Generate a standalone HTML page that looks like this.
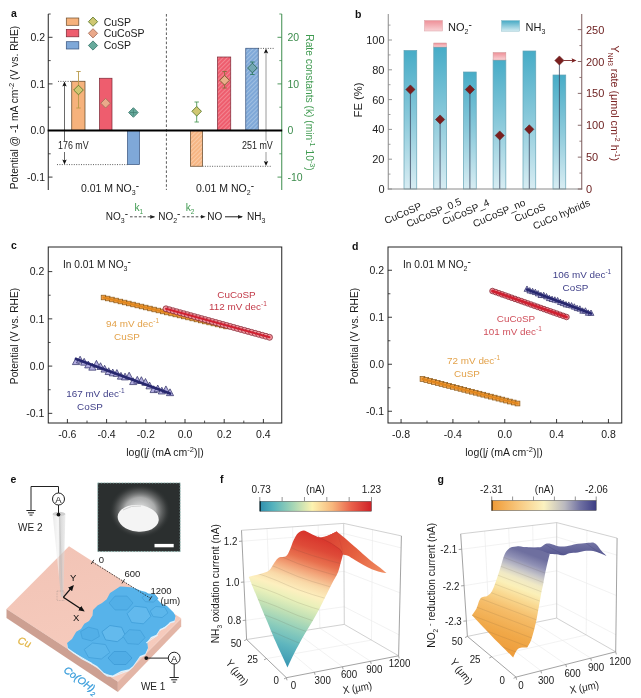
<!DOCTYPE html>
<html><head><meta charset="utf-8"><title>figure</title>
<style>
html,body{margin:0;padding:0;background:#fff;}
body{width:641px;height:698px;overflow:hidden;}
svg{display:block;will-change:transform;transform:translateZ(0);font-family:'Liberation Sans', sans-serif;}
</style></head><body>
<svg width="641" height="698" viewBox="0 0 641 698">
<defs>
<pattern id="hatchO" width="3" height="3" patternUnits="userSpaceOnUse" patternTransform="rotate(45)">
  <rect width="3" height="3" fill="#f6b684"/><line x1="0" y1="0" x2="0" y2="3" stroke="#fbd9bd" stroke-width="1.2"/>
</pattern>
<pattern id="hatchR" width="3" height="3" patternUnits="userSpaceOnUse" patternTransform="rotate(45)">
  <rect width="3" height="3" fill="#ee5d6e"/><line x1="0" y1="0" x2="0" y2="3" stroke="#f6a3ab" stroke-width="1.2"/>
</pattern>
<pattern id="hatchB" width="3" height="3" patternUnits="userSpaceOnUse" patternTransform="rotate(45)">
  <rect width="3" height="3" fill="#7fa8d8"/><line x1="0" y1="0" x2="0" y2="3" stroke="#b9d0ea" stroke-width="1.2"/>
</pattern>
<linearGradient id="teal" x1="0" y1="0" x2="0" y2="1">
  <stop offset="0" stop-color="#47acc7"/><stop offset="0.5" stop-color="#8ccadb"/><stop offset="1" stop-color="#d8edf3"/>
</linearGradient>
<linearGradient id="tealLeg" x1="0" y1="0" x2="0" y2="1">
  <stop offset="0" stop-color="#45a9c4"/><stop offset="1" stop-color="#d3ebf1"/>
</linearGradient>
<linearGradient id="pinkLeg" x1="0" y1="0" x2="0" y2="1">
  <stop offset="0" stop-color="#ee8f97"/><stop offset="1" stop-color="#f9d3d6"/>
</linearGradient>
<marker id="arrK" markerWidth="6" markerHeight="6" refX="5" refY="3" orient="auto" markerUnits="userSpaceOnUse">
  <path d="M0,0.5 L6,3 L0,5.5 z" fill="#222"/>
</marker>
<linearGradient id="cbF" x1="0" y1="0" x2="1" y2="0">
  <stop offset="0" stop-color="#2f8fae"/><stop offset="0.12" stop-color="#55b3bd"/><stop offset="0.3" stop-color="#a6d6b5"/>
  <stop offset="0.47" stop-color="#fdf3b0"/><stop offset="0.65" stop-color="#f8b77c"/><stop offset="0.82" stop-color="#e9604a"/><stop offset="1" stop-color="#cf2027"/>
</linearGradient>
<linearGradient id="cbG" x1="0" y1="0" x2="1" y2="0">
  <stop offset="0" stop-color="#ef9a35"/><stop offset="0.25" stop-color="#f8c77d"/><stop offset="0.5" stop-color="#fbf2c0"/>
  <stop offset="0.7" stop-color="#b9b8bf"/><stop offset="0.85" stop-color="#6f70a2"/><stop offset="1" stop-color="#3c3d85"/>
</linearGradient>
<linearGradient id="surfF" gradientUnits="userSpaceOnUse" x1="0" y1="530" x2="0" y2="668">
  <stop offset="0" stop-color="#d8352c"/><stop offset="0.12" stop-color="#e2513c"/><stop offset="0.25" stop-color="#ee8a60"/>
  <stop offset="0.36" stop-color="#f7c79a"/><stop offset="0.45" stop-color="#fdf0bf"/><stop offset="0.55" stop-color="#e6efb8"/>
  <stop offset="0.68" stop-color="#a9d8b8"/><stop offset="0.82" stop-color="#62b9bd"/><stop offset="1" stop-color="#3a9ab5"/>
</linearGradient>
<linearGradient id="surfG" gradientUnits="userSpaceOnUse" x1="0" y1="545" x2="0" y2="660">
  <stop offset="0" stop-color="#54558f"/><stop offset="0.1" stop-color="#7f80a8"/><stop offset="0.2" stop-color="#c4c2c0"/>
  <stop offset="0.32" stop-color="#fbf3c2"/><stop offset="0.48" stop-color="#fbdc9a"/><stop offset="0.65" stop-color="#f6bd6c"/>
  <stop offset="1" stop-color="#f0a03e"/>
</linearGradient>
<radialGradient id="semGlow" cx="0.5" cy="0.5" r="0.5">
  <stop offset="0" stop-color="#ffffff" stop-opacity="0.95"/><stop offset="0.5" stop-color="#e0e0e0" stop-opacity="0.7"/><stop offset="0.8" stop-color="#9a9a9a" stop-opacity="0.25"/><stop offset="1" stop-color="#2b2f2f" stop-opacity="0"/>
</radialGradient>
<linearGradient id="pip" x1="0" y1="0" x2="1" y2="0">
  <stop offset="0" stop-color="#dcdcdc"/><stop offset="0.45" stop-color="#f4f4f4"/><stop offset="0.55" stop-color="#bdbdbd"/><stop offset="1" stop-color="#e2e2e2"/>
</linearGradient>

</defs>
<rect x="0" y="0" width="641" height="698" fill="#ffffff"/>
<text x="11" y="16.7" font-size="10.5" fill="#111" text-anchor="start" font-weight="bold" font-style="normal" >a</text>
<line x1="48.25" y1="14" x2="48.25" y2="190" stroke="#222" stroke-width="1" />
<line x1="48.25" y1="37.3" x2="52.5" y2="37.3" stroke="#222" stroke-width="0.9" />
<text x="45" y="41.099999999999994" font-size="10.5" fill="#1a1a1a" text-anchor="end" font-weight="normal" font-style="normal" >0.2</text>
<line x1="48.25" y1="83.9" x2="52.5" y2="83.9" stroke="#222" stroke-width="0.9" />
<text x="45" y="87.7" font-size="10.5" fill="#1a1a1a" text-anchor="end" font-weight="normal" font-style="normal" >0.1</text>
<line x1="48.25" y1="130.5" x2="52.5" y2="130.5" stroke="#222" stroke-width="0.9" />
<text x="45" y="134.3" font-size="10.5" fill="#1a1a1a" text-anchor="end" font-weight="normal" font-style="normal" >0.0</text>
<line x1="48.25" y1="177.1" x2="52.5" y2="177.1" stroke="#222" stroke-width="0.9" />
<text x="45" y="180.9" font-size="10.5" fill="#1a1a1a" text-anchor="end" font-weight="normal" font-style="normal" >-0.1</text>
<line x1="48.25" y1="14.0" x2="50.7" y2="14.0" stroke="#222" stroke-width="0.8" />
<line x1="48.25" y1="60.60000000000001" x2="50.7" y2="60.60000000000001" stroke="#222" stroke-width="0.8" />
<line x1="48.25" y1="107.2" x2="50.7" y2="107.2" stroke="#222" stroke-width="0.8" />
<line x1="48.25" y1="153.8" x2="50.7" y2="153.8" stroke="#222" stroke-width="0.8" />
<line x1="281.75" y1="14" x2="281.75" y2="190" stroke="#3c8c4c" stroke-width="1" />
<line x1="277.5" y1="37.3" x2="281.75" y2="37.3" stroke="#3c8c4c" stroke-width="0.9" />
<text x="287.5" y="41.099999999999994" font-size="10.5" fill="#3c8c4c" text-anchor="start" font-weight="normal" font-style="normal" >20</text>
<line x1="277.5" y1="83.9" x2="281.75" y2="83.9" stroke="#3c8c4c" stroke-width="0.9" />
<text x="287.5" y="87.7" font-size="10.5" fill="#3c8c4c" text-anchor="start" font-weight="normal" font-style="normal" >10</text>
<line x1="277.5" y1="130.5" x2="281.75" y2="130.5" stroke="#3c8c4c" stroke-width="0.9" />
<text x="287.5" y="134.3" font-size="10.5" fill="#3c8c4c" text-anchor="start" font-weight="normal" font-style="normal" >0</text>
<line x1="277.5" y1="177.1" x2="281.75" y2="177.1" stroke="#3c8c4c" stroke-width="0.9" />
<text x="287.5" y="180.9" font-size="10.5" fill="#3c8c4c" text-anchor="start" font-weight="normal" font-style="normal" >-10</text>
<line x1="279.3" y1="14.0" x2="281.75" y2="14.0" stroke="#3c8c4c" stroke-width="0.8" />
<line x1="279.3" y1="60.60000000000001" x2="281.75" y2="60.60000000000001" stroke="#3c8c4c" stroke-width="0.8" />
<line x1="279.3" y1="107.2" x2="281.75" y2="107.2" stroke="#3c8c4c" stroke-width="0.8" />
<line x1="279.3" y1="153.8" x2="281.75" y2="153.8" stroke="#3c8c4c" stroke-width="0.8" />
<text x="17.5" y="107.5" font-size="10.3" fill="#1a1a1a" text-anchor="middle" font-weight="normal" font-style="normal" transform="rotate(-90 17.5 107.5)" >Potential @ -1 mA cm<tspan baseline-shift="4" font-size="7.5">-2</tspan> (V vs. RHE)</text>
<text x="306.2" y="102.5" font-size="10.25" fill="#3f9a50" text-anchor="middle" font-weight="normal" font-style="normal" transform="rotate(90 306.2 102.5)" >Rate constants (k) (min<tspan baseline-shift="4" font-size="7.2">-1</tspan> 10<tspan baseline-shift="4" font-size="7.2">-3</tspan>)</text>
<line x1="166.4" y1="14" x2="166.4" y2="190" stroke="#333" stroke-width="0.8" stroke-dasharray="2.6,2"/>
<rect x="66.3" y="18" width="12.5" height="7.3" fill="#f6b27c" stroke="#6b4a2a" stroke-width="0.7" />
<rect x="66.3" y="29.5" width="12.5" height="7.3" fill="#ee5d6e" stroke="#7a2634" stroke-width="0.7" />
<rect x="66.3" y="41.7" width="12.5" height="7.3" fill="#7fa8d8" stroke="#34507c" stroke-width="0.7" />
<polygon points="88.4,21.7 93,17.1 97.6,21.7 93,26.299999999999997" fill="#cfc771" stroke="#5e7a2e" stroke-width="0.9"/>
<polygon points="88.4,33.3 93,28.699999999999996 97.6,33.3 93,37.9" fill="#eaa98a" stroke="#a8705c" stroke-width="0.9"/>
<polygon points="88.4,45.5 93,40.9 97.6,45.5 93,50.1" fill="#67aa9c" stroke="#3f7c70" stroke-width="0.9"/>
<text x="103.7" y="25.5" font-size="10.5" fill="#1a1a1a" text-anchor="start" font-weight="normal" font-style="normal" >CuSP</text>
<text x="103.7" y="37.2" font-size="10.5" fill="#1a1a1a" text-anchor="start" font-weight="normal" font-style="normal" >CuCoSP</text>
<text x="103.7" y="49.3" font-size="10.5" fill="#1a1a1a" text-anchor="start" font-weight="normal" font-style="normal" >CoSP</text>
<rect x="71.75" y="81.25" width="13.25" height="49.25" fill="#f6b27c" stroke="#5b3f22" stroke-width="0.7" />
<rect x="99.5" y="78.25" width="12.5" height="52.25" fill="#ee5d6e" stroke="#7a2634" stroke-width="0.7" />
<rect x="127.5" y="130.5" width="12" height="34.0" fill="#7fa8d8" stroke="#34507c" stroke-width="0.7" />
<rect x="190.5" y="130.5" width="12" height="35.75" fill="url(#hatchO)" stroke="#5b3f22" stroke-width="0.7" />
<rect x="217.5" y="57" width="13.25" height="73.5" fill="url(#hatchR)" stroke="#7a2634" stroke-width="0.7" />
<rect x="245.75" y="48.25" width="12.5" height="82.25" fill="url(#hatchB)" stroke="#34507c" stroke-width="0.7" />
<line x1="58" y1="81.4" x2="72" y2="81.4" stroke="#333" stroke-width="0.8" stroke-dasharray="1,1.4"/>
<line x1="57" y1="164.6" x2="127.5" y2="164.6" stroke="#333" stroke-width="0.8" stroke-dasharray="1,1.4"/>
<line x1="258.2" y1="48.4" x2="274" y2="48.4" stroke="#333" stroke-width="0.8" stroke-dasharray="1,1.4"/>
<line x1="202.5" y1="166.3" x2="272" y2="166.3" stroke="#333" stroke-width="0.8" stroke-dasharray="1,1.4"/>
<line x1="64.5" y1="84" x2="64.5" y2="162" stroke="#444" stroke-width="0.8" />
<path d="M64.5,81.6 L62.3,86.6 L64.5,85.6 L66.7,86.6z" fill="#111"/>
<path d="M64.5,164.4 L62.3,159.4 L64.5,160.4 L66.7,159.4z" fill="#111"/>
<line x1="266" y1="51" x2="266" y2="164" stroke="#9a9a9a" stroke-width="1.0" />
<path d="M266,48.6 L263.8,53.6 L266,52.6 L268.2,53.6z" fill="#111"/>
<path d="M266,166.1 L263.8,161.1 L266,162.1 L268.2,161.1z" fill="#111"/>
<rect x="57" y="141" width="33" height="11" fill="#fff" stroke="none" stroke-width="1" />
<text x="58" y="149.3" font-size="10.2" fill="#222" text-anchor="start" font-weight="normal" font-style="normal" textLength="30.6" lengthAdjust="spacingAndGlyphs">176 mV</text>
<rect x="241" y="141" width="33" height="11" fill="#fff" stroke="none" stroke-width="1" />
<text x="242" y="149.3" font-size="10.2" fill="#222" text-anchor="start" font-weight="normal" font-style="normal" textLength="30.8" lengthAdjust="spacingAndGlyphs">251 mV</text>
<line x1="47.7" y1="130.5" x2="282.2" y2="130.5" stroke="#000" stroke-width="1.8" />
<line x1="78.5" y1="71.5" x2="78.5" y2="108" stroke="#b89a4a" stroke-width="0.9" />
<line x1="76.3" y1="71.5" x2="80.7" y2="71.5" stroke="#b89a4a" stroke-width="0.9" />
<line x1="76.3" y1="108" x2="80.7" y2="108" stroke="#b89a4a" stroke-width="0.9" />
<polygon points="73.7,90 78.5,85.2 83.3,90 78.5,94.8" fill="#cfc771" stroke="#5e7a2e" stroke-width="0.9"/>
<polygon points="100.8,103.2 105.6,98.4 110.39999999999999,103.2 105.6,108.0" fill="#eaa98a" stroke="#a8705c" stroke-width="0.9"/>
<polygon points="128.6,112.5 133.4,107.7 138.20000000000002,112.5 133.4,117.3" fill="#67aa9c" stroke="#3f7c70" stroke-width="0.9"/>
<line x1="130" y1="112.5" x2="136.8" y2="112.5" stroke="#3f7c70" stroke-width="0.7" />
<line x1="133.4" y1="109.5" x2="133.4" y2="115.5" stroke="#3f7c70" stroke-width="0.7" />
<line x1="196.7" y1="102" x2="196.7" y2="122" stroke="#4f9a5a" stroke-width="0.9" />
<line x1="194.5" y1="102" x2="198.89999999999998" y2="102" stroke="#4f9a5a" stroke-width="0.9" />
<line x1="194.5" y1="122" x2="198.89999999999998" y2="122" stroke="#4f9a5a" stroke-width="0.9" />
<polygon points="191.89999999999998,111.3 196.7,106.5 201.5,111.3 196.7,116.1" fill="#cfc771" stroke="#5e7a2e" stroke-width="0.9"/>
<line x1="224.6" y1="71.5" x2="224.6" y2="88" stroke="#8a6a3a" stroke-width="0.9" />
<line x1="222.4" y1="71.5" x2="226.79999999999998" y2="71.5" stroke="#8a6a3a" stroke-width="0.9" />
<line x1="222.4" y1="88" x2="226.79999999999998" y2="88" stroke="#8a6a3a" stroke-width="0.9" />
<polygon points="219.79999999999998,80.3 224.6,75.5 229.4,80.3 224.6,85.1" fill="#eab08a" stroke="#7a5a30" stroke-width="0.9"/>
<line x1="252.4" y1="62" x2="252.4" y2="74.5" stroke="#2f7c60" stroke-width="0.9" />
<line x1="250.20000000000002" y1="62" x2="254.6" y2="62" stroke="#2f7c60" stroke-width="0.9" />
<line x1="250.20000000000002" y1="74.5" x2="254.6" y2="74.5" stroke="#2f7c60" stroke-width="0.9" />
<polygon points="247.6,68 252.4,63.2 257.2,68 252.4,72.8" fill="#74a8b4" stroke="#2f6c5c" stroke-width="0.9"/>
<text x="110" y="191.5" font-size="10.5" fill="#1a1a1a" text-anchor="middle" font-weight="normal" font-style="normal" >0.01 M NO<tspan baseline-shift="-2.5" font-size="7">3</tspan><tspan baseline-shift="3.5" font-size="10">-</tspan></text>
<text x="225" y="191.5" font-size="10.5" fill="#1a1a1a" text-anchor="middle" font-weight="normal" font-style="normal" >0.01 M NO<tspan baseline-shift="-2.5" font-size="7">2</tspan><tspan baseline-shift="3.5" font-size="10">-</tspan></text>
<defs><marker id="arrS" markerWidth="5" markerHeight="5" refX="4" refY="2.5" orient="auto" markerUnits="userSpaceOnUse"><path d="M0,0.6 L5,2.5 L0,4.4 z" fill="#222"/></marker></defs>
<text x="105.8" y="220.4" font-size="10" fill="#1a1a1a" text-anchor="start" font-weight="normal" font-style="normal" >NO<tspan baseline-shift="-2.5" font-size="7">3</tspan><tspan baseline-shift="3.5" font-size="10">-</tspan></text>
<line x1="130" y1="216.8" x2="154.2" y2="216.8" stroke="#222" stroke-width="0.8" stroke-dasharray="2.6,1.8" marker-end="url(#arrS)"/>
<text x="138.8" y="210.8" font-size="10.2" fill="#3f9a50" text-anchor="middle" font-weight="normal" font-style="normal" >k<tspan baseline-shift="-2.5" font-size="6.5">1</tspan></text>
<text x="158.2" y="220.4" font-size="10" fill="#1a1a1a" text-anchor="start" font-weight="normal" font-style="normal" >NO<tspan baseline-shift="-2.5" font-size="7">2</tspan><tspan baseline-shift="3.5" font-size="10">-</tspan></text>
<line x1="182.5" y1="216.8" x2="204.6" y2="216.8" stroke="#222" stroke-width="0.8" stroke-dasharray="2.6,1.8" marker-end="url(#arrS)"/>
<text x="190" y="210.8" font-size="10.2" fill="#3f9a50" text-anchor="middle" font-weight="normal" font-style="normal" >k<tspan baseline-shift="-2.5" font-size="6.5">2</tspan></text>
<text x="207.3" y="220.4" font-size="10" fill="#1a1a1a" text-anchor="start" font-weight="normal" font-style="normal" >NO</text>
<line x1="225" y1="216.8" x2="242" y2="216.8" stroke="#222" stroke-width="1.0" marker-end="url(#arrS)"/>
<text x="247" y="220.4" font-size="10" fill="#1a1a1a" text-anchor="start" font-weight="normal" font-style="normal" >NH<tspan baseline-shift="-2.5" font-size="7">3</tspan></text>
<text x="355" y="18" font-size="10.5" fill="#111" text-anchor="start" font-weight="bold" font-style="normal" >b</text>
<rect x="404" y="50.5" width="12.75" height="138.5" fill="url(#teal)" stroke="#64a3b6" stroke-width="0.7" />
<rect x="433.75" y="47" width="12.75" height="142.0" fill="url(#teal)" stroke="#64a3b6" stroke-width="0.7" />
<rect x="433.75" y="43" width="12.75" height="4" fill="url(#pinkLeg)" stroke="#c99" stroke-width="0.5" />
<rect x="463.5" y="72" width="12.75" height="117.0" fill="url(#teal)" stroke="#64a3b6" stroke-width="0.7" />
<rect x="493.1" y="60" width="12.75" height="129.0" fill="url(#teal)" stroke="#64a3b6" stroke-width="0.7" />
<rect x="493.1" y="52.5" width="12.75" height="7.5" fill="url(#pinkLeg)" stroke="#c99" stroke-width="0.5" />
<rect x="523" y="51" width="12.75" height="138.0" fill="url(#teal)" stroke="#64a3b6" stroke-width="0.7" />
<rect x="553" y="75" width="12.75" height="114.0" fill="url(#teal)" stroke="#64a3b6" stroke-width="0.7" />
<line x1="410.4" y1="89.5" x2="410.4" y2="189.0" stroke="#3c4560" stroke-width="0.8" />
<line x1="440.1" y1="119.5" x2="440.1" y2="189.0" stroke="#3c4560" stroke-width="0.8" />
<line x1="469.9" y1="89.5" x2="469.9" y2="189.0" stroke="#3c4560" stroke-width="0.8" />
<line x1="499.75" y1="135.5" x2="499.75" y2="189.0" stroke="#3c4560" stroke-width="0.8" />
<line x1="529.3" y1="129.3" x2="529.3" y2="189.0" stroke="#3c4560" stroke-width="0.8" />
<line x1="559.4" y1="60.5" x2="559.4" y2="189.0" stroke="#3c4560" stroke-width="0.8" />
<polygon points="405.79999999999995,89.5 410.4,84.9 415.0,89.5 410.4,94.1" fill="#7a1f1f" stroke="#5a1515" stroke-width="0.5"/>
<polygon points="435.5,119.5 440.1,114.9 444.70000000000005,119.5 440.1,124.1" fill="#7a1f1f" stroke="#5a1515" stroke-width="0.5"/>
<polygon points="465.29999999999995,89.5 469.9,84.9 474.5,89.5 469.9,94.1" fill="#7a1f1f" stroke="#5a1515" stroke-width="0.5"/>
<polygon points="495.15,135.5 499.75,130.9 504.35,135.5 499.75,140.1" fill="#7a1f1f" stroke="#5a1515" stroke-width="0.5"/>
<polygon points="524.6999999999999,129.3 529.3,124.70000000000002 533.9,129.3 529.3,133.9" fill="#7a1f1f" stroke="#5a1515" stroke-width="0.5"/>
<polygon points="554.8,60.5 559.4,55.9 564.0,60.5 559.4,65.1" fill="#7a1f1f" stroke="#5a1515" stroke-width="0.5"/>
<line x1="564" y1="60.5" x2="573" y2="60.5" stroke="#7a2323" stroke-width="0.9" />
<path d="M576.5,60.5 L571.5,58.3 L572.5,60.5 L571.5,62.7z" fill="#7a1f1f"/>
<line x1="388.25" y1="14" x2="388.25" y2="189.5" stroke="#8a8a8a" stroke-width="1" />
<line x1="387.75" y1="189.0" x2="582.25" y2="189.0" stroke="#8a8a8a" stroke-width="1" />
<line x1="581.75" y1="14" x2="581.75" y2="189.5" stroke="#7a5a5a" stroke-width="1" />
<line x1="388.25" y1="189.0" x2="392" y2="189.0" stroke="#8a8a8a" stroke-width="0.9" />
<text x="384.5" y="193.0" font-size="11" fill="#222" text-anchor="end" font-weight="normal" font-style="normal" >0</text>
<line x1="388.25" y1="159.2" x2="392" y2="159.2" stroke="#8a8a8a" stroke-width="0.9" />
<text x="384.5" y="163.2" font-size="11" fill="#222" text-anchor="end" font-weight="normal" font-style="normal" >20</text>
<line x1="388.25" y1="129.4" x2="392" y2="129.4" stroke="#8a8a8a" stroke-width="0.9" />
<text x="384.5" y="133.4" font-size="11" fill="#222" text-anchor="end" font-weight="normal" font-style="normal" >40</text>
<line x1="388.25" y1="99.6" x2="392" y2="99.6" stroke="#8a8a8a" stroke-width="0.9" />
<text x="384.5" y="103.6" font-size="11" fill="#222" text-anchor="end" font-weight="normal" font-style="normal" >60</text>
<line x1="388.25" y1="69.8" x2="392" y2="69.8" stroke="#8a8a8a" stroke-width="0.9" />
<text x="384.5" y="73.8" font-size="11" fill="#222" text-anchor="end" font-weight="normal" font-style="normal" >80</text>
<line x1="388.25" y1="40.0" x2="392" y2="40.0" stroke="#8a8a8a" stroke-width="0.9" />
<text x="384.5" y="44.0" font-size="11" fill="#222" text-anchor="end" font-weight="normal" font-style="normal" >100</text>
<line x1="388.25" y1="174.1" x2="390.5" y2="174.1" stroke="#8a8a8a" stroke-width="0.8" />
<line x1="388.25" y1="144.3" x2="390.5" y2="144.3" stroke="#8a8a8a" stroke-width="0.8" />
<line x1="388.25" y1="114.5" x2="390.5" y2="114.5" stroke="#8a8a8a" stroke-width="0.8" />
<line x1="388.25" y1="84.7" x2="390.5" y2="84.7" stroke="#8a8a8a" stroke-width="0.8" />
<line x1="388.25" y1="54.900000000000006" x2="390.5" y2="54.900000000000006" stroke="#8a8a8a" stroke-width="0.8" />
<line x1="388.25" y1="25.099999999999994" x2="390.5" y2="25.099999999999994" stroke="#8a8a8a" stroke-width="0.8" />
<line x1="577.8" y1="189.0" x2="581.75" y2="189.0" stroke="#7a5a5a" stroke-width="0.9" />
<text x="586" y="193.0" font-size="11" fill="#6e2222" text-anchor="start" font-weight="normal" font-style="normal" >0</text>
<line x1="577.8" y1="157.125" x2="581.75" y2="157.125" stroke="#7a5a5a" stroke-width="0.9" />
<text x="586" y="161.125" font-size="11" fill="#6e2222" text-anchor="start" font-weight="normal" font-style="normal" >50</text>
<line x1="577.8" y1="125.25" x2="581.75" y2="125.25" stroke="#7a5a5a" stroke-width="0.9" />
<text x="586" y="129.25" font-size="11" fill="#6e2222" text-anchor="start" font-weight="normal" font-style="normal" >100</text>
<line x1="577.8" y1="93.375" x2="581.75" y2="93.375" stroke="#7a5a5a" stroke-width="0.9" />
<text x="586" y="97.375" font-size="11" fill="#6e2222" text-anchor="start" font-weight="normal" font-style="normal" >150</text>
<line x1="577.8" y1="61.500000000000014" x2="581.75" y2="61.500000000000014" stroke="#7a5a5a" stroke-width="0.9" />
<text x="586" y="65.50000000000001" font-size="11" fill="#6e2222" text-anchor="start" font-weight="normal" font-style="normal" >200</text>
<line x1="577.8" y1="29.625" x2="581.75" y2="29.625" stroke="#7a5a5a" stroke-width="0.9" />
<text x="586" y="33.625" font-size="11" fill="#6e2222" text-anchor="start" font-weight="normal" font-style="normal" >250</text>
<line x1="579.4" y1="173.0625" x2="581.75" y2="173.0625" stroke="#7a5a5a" stroke-width="0.8" />
<line x1="579.4" y1="141.1875" x2="581.75" y2="141.1875" stroke="#7a5a5a" stroke-width="0.8" />
<line x1="579.4" y1="109.3125" x2="581.75" y2="109.3125" stroke="#7a5a5a" stroke-width="0.8" />
<line x1="579.4" y1="77.43750000000001" x2="581.75" y2="77.43750000000001" stroke="#7a5a5a" stroke-width="0.8" />
<line x1="579.4" y1="45.5625" x2="581.75" y2="45.5625" stroke="#7a5a5a" stroke-width="0.8" />
<text x="361.5" y="100" font-size="11.2" fill="#1a1a1a" text-anchor="middle" font-weight="normal" font-style="normal" transform="rotate(-90 361.5 100)" >FE (%)</text>
<text x="610.7" y="103.3" font-size="10.8" fill="#7a2323" text-anchor="middle" font-weight="normal" font-style="normal" transform="rotate(90 610.7 103.3)" >Y<tspan baseline-shift="-2.5" font-size="6.5">NH3</tspan> rate (μmol cm<tspan baseline-shift="4" font-size="7.5">-2</tspan> h<tspan baseline-shift="4" font-size="7.5">-1</tspan>)</text>
<rect x="424.5" y="20.5" width="18" height="10.5" fill="url(#pinkLeg)" stroke="#d9a0a4" stroke-width="0.5" />
<text x="448" y="30.5" font-size="11" fill="#1a1a1a" text-anchor="start" font-weight="normal" font-style="normal" >NO<tspan baseline-shift="-2.5" font-size="7">2</tspan><tspan baseline-shift="3.5" font-size="10">-</tspan></text>
<rect x="501.5" y="20.5" width="18.2" height="10.7" fill="url(#tealLeg)" stroke="#8fbfcc" stroke-width="0.5" />
<text x="525.5" y="30.5" font-size="11" fill="#1a1a1a" text-anchor="start" font-weight="normal" font-style="normal" >NH<tspan baseline-shift="-2.5" font-size="7">3</tspan></text>
<text x="404.3" y="216.5" font-size="10.1" fill="#222" text-anchor="middle" font-weight="normal" font-style="normal" transform="rotate(-23.5 404.3 216.5)" >CuCoSP</text>
<text x="435.2" y="215.79999999999998" font-size="10.1" fill="#222" text-anchor="middle" font-weight="normal" font-style="normal" transform="rotate(-23.5 435.2 215.79999999999998)" >CuCoSP_0.5</text>
<text x="467.1" y="215.2" font-size="10.1" fill="#222" text-anchor="middle" font-weight="normal" font-style="normal" transform="rotate(-23.5 467.1 215.2)" >CuCoSP_4</text>
<text x="500.40000000000003" y="216.2" font-size="10.1" fill="#222" text-anchor="middle" font-weight="normal" font-style="normal" transform="rotate(-23.5 500.40000000000003 216.2)" >CuCoSP_no</text>
<text x="531.3" y="215.79999999999998" font-size="10.1" fill="#222" text-anchor="middle" font-weight="normal" font-style="normal" transform="rotate(-23.5 531.3 215.79999999999998)" >CuCoS</text>
<text x="562.8" y="217.5" font-size="10.1" fill="#222" text-anchor="middle" font-weight="normal" font-style="normal" transform="rotate(-23.5 562.8 217.5)" >CuCo hybrids</text>
<text x="11" y="249.3" font-size="10.5" fill="#111" text-anchor="start" font-weight="bold" font-style="normal" >c</text>
<rect x="48.25" y="247" width="233.5" height="176" fill="#fff" stroke="#222" stroke-width="1" />
<line x1="48.25" y1="271.6" x2="52.25" y2="271.6" stroke="#222" stroke-width="0.9" />
<text x="44.25" y="275.40000000000003" font-size="10.5" fill="#1a1a1a" text-anchor="end" font-weight="normal" font-style="normal" >0.2</text>
<line x1="48.25" y1="318.85" x2="52.25" y2="318.85" stroke="#222" stroke-width="0.9" />
<text x="44.25" y="322.65000000000003" font-size="10.5" fill="#1a1a1a" text-anchor="end" font-weight="normal" font-style="normal" >0.1</text>
<line x1="48.25" y1="366.1" x2="52.25" y2="366.1" stroke="#222" stroke-width="0.9" />
<text x="44.25" y="369.90000000000003" font-size="10.5" fill="#1a1a1a" text-anchor="end" font-weight="normal" font-style="normal" >0.0</text>
<line x1="48.25" y1="413.35" x2="52.25" y2="413.35" stroke="#222" stroke-width="0.9" />
<text x="44.25" y="417.15000000000003" font-size="10.5" fill="#1a1a1a" text-anchor="end" font-weight="normal" font-style="normal" >-0.1</text>
<line x1="48.25" y1="295.225" x2="50.65" y2="295.225" stroke="#222" stroke-width="0.8" />
<line x1="48.25" y1="342.475" x2="50.65" y2="342.475" stroke="#222" stroke-width="0.8" />
<line x1="48.25" y1="389.725" x2="50.65" y2="389.725" stroke="#222" stroke-width="0.8" />
<line x1="67.4" y1="423" x2="67.4" y2="419" stroke="#222" stroke-width="0.9" />
<text x="67.4" y="437.5" font-size="10.5" fill="#1a1a1a" text-anchor="middle" font-weight="normal" font-style="normal" >-0.6</text>
<line x1="106.6" y1="423" x2="106.6" y2="419" stroke="#222" stroke-width="0.9" />
<text x="106.6" y="437.5" font-size="10.5" fill="#1a1a1a" text-anchor="middle" font-weight="normal" font-style="normal" >-0.4</text>
<line x1="145.8" y1="423" x2="145.8" y2="419" stroke="#222" stroke-width="0.9" />
<text x="145.8" y="437.5" font-size="10.5" fill="#1a1a1a" text-anchor="middle" font-weight="normal" font-style="normal" >-0.2</text>
<line x1="185.0" y1="423" x2="185.0" y2="419" stroke="#222" stroke-width="0.9" />
<text x="185.0" y="437.5" font-size="10.5" fill="#1a1a1a" text-anchor="middle" font-weight="normal" font-style="normal" >0.0</text>
<line x1="224.2" y1="423" x2="224.2" y2="419" stroke="#222" stroke-width="0.9" />
<text x="224.2" y="437.5" font-size="10.5" fill="#1a1a1a" text-anchor="middle" font-weight="normal" font-style="normal" >0.2</text>
<line x1="263.4" y1="423" x2="263.4" y2="419" stroke="#222" stroke-width="0.9" />
<text x="263.4" y="437.5" font-size="10.5" fill="#1a1a1a" text-anchor="middle" font-weight="normal" font-style="normal" >0.4</text>
<line x1="87.0" y1="423" x2="87.0" y2="420.6" stroke="#222" stroke-width="0.8" />
<line x1="126.2" y1="423" x2="126.2" y2="420.6" stroke="#222" stroke-width="0.8" />
<line x1="165.4" y1="423" x2="165.4" y2="420.6" stroke="#222" stroke-width="0.8" />
<line x1="204.6" y1="423" x2="204.6" y2="420.6" stroke="#222" stroke-width="0.8" />
<line x1="243.8" y1="423" x2="243.8" y2="420.6" stroke="#222" stroke-width="0.8" />
<text x="17.5" y="336" font-size="10.2" fill="#1a1a1a" text-anchor="middle" font-weight="normal" font-style="normal" transform="rotate(-90 17.5 336)" >Potential (V vs. RHE)</text>
<text x="165" y="455.5" font-size="10.5" fill="#1a1a1a" text-anchor="middle" font-weight="normal" font-style="normal" >log(|<tspan font-style="italic">j</tspan> (mA cm<tspan baseline-shift="4" font-size="7.5">-2</tspan>)|)</text>
<text x="63" y="267.7" font-size="10.2" fill="#1a1a1a" text-anchor="start" font-weight="normal" font-style="normal" >In 0.01 M NO<tspan baseline-shift="-2.5" font-size="7">3</tspan><tspan baseline-shift="3.5" font-size="10">-</tspan></text>
<rect x="101.2" y="295.2" width="4.6" height="4.6" fill="#f3a24a" stroke="#8a5a1a" stroke-width="0.7" />
<rect x="105.42" y="296.2" width="4.6" height="4.6" fill="#f3a24a" stroke="#8a5a1a" stroke-width="0.7" />
<rect x="109.65" y="297.2" width="4.6" height="4.6" fill="#f3a24a" stroke="#8a5a1a" stroke-width="0.7" />
<rect x="113.87" y="298.2" width="4.6" height="4.6" fill="#f3a24a" stroke="#8a5a1a" stroke-width="0.7" />
<rect x="118.1" y="299.2" width="4.6" height="4.6" fill="#f3a24a" stroke="#8a5a1a" stroke-width="0.7" />
<rect x="122.32" y="300.2" width="4.6" height="4.6" fill="#f3a24a" stroke="#8a5a1a" stroke-width="0.7" />
<rect x="126.54" y="301.2" width="4.6" height="4.6" fill="#f3a24a" stroke="#8a5a1a" stroke-width="0.7" />
<rect x="130.77" y="302.2" width="4.6" height="4.6" fill="#f3a24a" stroke="#8a5a1a" stroke-width="0.7" />
<rect x="134.99" y="303.2" width="4.6" height="4.6" fill="#f3a24a" stroke="#8a5a1a" stroke-width="0.7" />
<rect x="139.22" y="304.2" width="4.6" height="4.6" fill="#f3a24a" stroke="#8a5a1a" stroke-width="0.7" />
<rect x="143.44" y="305.2" width="4.6" height="4.6" fill="#f3a24a" stroke="#8a5a1a" stroke-width="0.7" />
<rect x="147.67" y="306.2" width="4.6" height="4.6" fill="#f3a24a" stroke="#8a5a1a" stroke-width="0.7" />
<rect x="151.89" y="307.2" width="4.6" height="4.6" fill="#f3a24a" stroke="#8a5a1a" stroke-width="0.7" />
<rect x="156.11" y="308.2" width="4.6" height="4.6" fill="#f3a24a" stroke="#8a5a1a" stroke-width="0.7" />
<rect x="160.34" y="309.2" width="4.6" height="4.6" fill="#f3a24a" stroke="#8a5a1a" stroke-width="0.7" />
<rect x="164.56" y="310.2" width="4.6" height="4.6" fill="#f3a24a" stroke="#8a5a1a" stroke-width="0.7" />
<rect x="168.79" y="311.2" width="4.6" height="4.6" fill="#f3a24a" stroke="#8a5a1a" stroke-width="0.7" />
<rect x="173.01" y="312.2" width="4.6" height="4.6" fill="#f3a24a" stroke="#8a5a1a" stroke-width="0.7" />
<rect x="177.23" y="313.2" width="4.6" height="4.6" fill="#f3a24a" stroke="#8a5a1a" stroke-width="0.7" />
<rect x="181.46" y="314.2" width="4.6" height="4.6" fill="#f3a24a" stroke="#8a5a1a" stroke-width="0.7" />
<rect x="185.68" y="315.2" width="4.6" height="4.6" fill="#f3a24a" stroke="#8a5a1a" stroke-width="0.7" />
<rect x="189.91" y="316.2" width="4.6" height="4.6" fill="#f3a24a" stroke="#8a5a1a" stroke-width="0.7" />
<rect x="194.13" y="317.2" width="4.6" height="4.6" fill="#f3a24a" stroke="#8a5a1a" stroke-width="0.7" />
<rect x="198.36" y="318.2" width="4.6" height="4.6" fill="#f3a24a" stroke="#8a5a1a" stroke-width="0.7" />
<rect x="202.58" y="319.2" width="4.6" height="4.6" fill="#f3a24a" stroke="#8a5a1a" stroke-width="0.7" />
<rect x="206.8" y="320.2" width="4.6" height="4.6" fill="#f3a24a" stroke="#8a5a1a" stroke-width="0.7" />
<rect x="211.03" y="321.2" width="4.6" height="4.6" fill="#f3a24a" stroke="#8a5a1a" stroke-width="0.7" />
<rect x="215.25" y="322.2" width="4.6" height="4.6" fill="#f3a24a" stroke="#8a5a1a" stroke-width="0.7" />
<rect x="219.48" y="323.2" width="4.6" height="4.6" fill="#f3a24a" stroke="#8a5a1a" stroke-width="0.7" />
<rect x="223.7" y="324.2" width="4.6" height="4.6" fill="#f3a24a" stroke="#8a5a1a" stroke-width="0.7" />
<line x1="103.5" y1="297.5" x2="226" y2="326.5" stroke="#e0861c" stroke-width="2.0" stroke-linecap="round"/>
<circle cx="166.00" cy="308.80" r="3.0" fill="#f39aa2" stroke="#7a1a28" stroke-width="0.7"/>
<circle cx="169.57" cy="309.78" r="3.0" fill="#f39aa2" stroke="#7a1a28" stroke-width="0.7"/>
<circle cx="173.14" cy="310.77" r="3.0" fill="#f39aa2" stroke="#7a1a28" stroke-width="0.7"/>
<circle cx="176.71" cy="311.75" r="3.0" fill="#f39aa2" stroke="#7a1a28" stroke-width="0.7"/>
<circle cx="180.28" cy="312.73" r="3.0" fill="#f39aa2" stroke="#7a1a28" stroke-width="0.7"/>
<circle cx="183.84" cy="313.71" r="3.0" fill="#f39aa2" stroke="#7a1a28" stroke-width="0.7"/>
<circle cx="187.41" cy="314.70" r="3.0" fill="#f39aa2" stroke="#7a1a28" stroke-width="0.7"/>
<circle cx="190.98" cy="315.68" r="3.0" fill="#f39aa2" stroke="#7a1a28" stroke-width="0.7"/>
<circle cx="194.55" cy="316.66" r="3.0" fill="#f39aa2" stroke="#7a1a28" stroke-width="0.7"/>
<circle cx="198.12" cy="317.64" r="3.0" fill="#f39aa2" stroke="#7a1a28" stroke-width="0.7"/>
<circle cx="201.69" cy="318.63" r="3.0" fill="#f39aa2" stroke="#7a1a28" stroke-width="0.7"/>
<circle cx="205.26" cy="319.61" r="3.0" fill="#f39aa2" stroke="#7a1a28" stroke-width="0.7"/>
<circle cx="208.83" cy="320.59" r="3.0" fill="#f39aa2" stroke="#7a1a28" stroke-width="0.7"/>
<circle cx="212.40" cy="321.58" r="3.0" fill="#f39aa2" stroke="#7a1a28" stroke-width="0.7"/>
<circle cx="215.97" cy="322.56" r="3.0" fill="#f39aa2" stroke="#7a1a28" stroke-width="0.7"/>
<circle cx="219.53" cy="323.54" r="3.0" fill="#f39aa2" stroke="#7a1a28" stroke-width="0.7"/>
<circle cx="223.10" cy="324.52" r="3.0" fill="#f39aa2" stroke="#7a1a28" stroke-width="0.7"/>
<circle cx="226.67" cy="325.51" r="3.0" fill="#f39aa2" stroke="#7a1a28" stroke-width="0.7"/>
<circle cx="230.24" cy="326.49" r="3.0" fill="#f39aa2" stroke="#7a1a28" stroke-width="0.7"/>
<circle cx="233.81" cy="327.47" r="3.0" fill="#f39aa2" stroke="#7a1a28" stroke-width="0.7"/>
<circle cx="237.38" cy="328.46" r="3.0" fill="#f39aa2" stroke="#7a1a28" stroke-width="0.7"/>
<circle cx="240.95" cy="329.44" r="3.0" fill="#f39aa2" stroke="#7a1a28" stroke-width="0.7"/>
<circle cx="244.52" cy="330.42" r="3.0" fill="#f39aa2" stroke="#7a1a28" stroke-width="0.7"/>
<circle cx="248.09" cy="331.40" r="3.0" fill="#f39aa2" stroke="#7a1a28" stroke-width="0.7"/>
<circle cx="251.66" cy="332.39" r="3.0" fill="#f39aa2" stroke="#7a1a28" stroke-width="0.7"/>
<circle cx="255.22" cy="333.37" r="3.0" fill="#f39aa2" stroke="#7a1a28" stroke-width="0.7"/>
<circle cx="258.79" cy="334.35" r="3.0" fill="#f39aa2" stroke="#7a1a28" stroke-width="0.7"/>
<circle cx="262.36" cy="335.33" r="3.0" fill="#f39aa2" stroke="#7a1a28" stroke-width="0.7"/>
<circle cx="265.93" cy="336.32" r="3.0" fill="#f39aa2" stroke="#7a1a28" stroke-width="0.7"/>
<circle cx="269.50" cy="337.30" r="3.0" fill="#f39aa2" stroke="#7a1a28" stroke-width="0.7"/>
<line x1="166" y1="308.8" x2="269.5" y2="337.3" stroke="#d01f30" stroke-width="2.0" stroke-linecap="round"/>
<polygon points="72.40,364.58 79.60,364.58 76.00,357.78" fill="#b3aee0" stroke="#2a2a60" stroke-width="0.7"/>
<polygon points="76.49,362.99 83.69,362.99 80.09,356.19" fill="#b3aee0" stroke="#2a2a60" stroke-width="0.7"/>
<polygon points="80.57,365.15 87.77,365.15 84.17,358.35" fill="#b3aee0" stroke="#2a2a60" stroke-width="0.7"/>
<polygon points="84.66,367.90 91.86,367.90 88.26,361.10" fill="#b3aee0" stroke="#2a2a60" stroke-width="0.7"/>
<polygon points="88.75,370.17 95.95,370.17 92.35,363.37" fill="#b3aee0" stroke="#2a2a60" stroke-width="0.7"/>
<polygon points="92.83,367.17 100.03,367.17 96.43,360.37" fill="#b3aee0" stroke="#2a2a60" stroke-width="0.7"/>
<polygon points="96.92,369.51 104.12,369.51 100.52,362.71" fill="#b3aee0" stroke="#2a2a60" stroke-width="0.7"/>
<polygon points="101.01,372.08 108.21,372.08 104.61,365.28" fill="#b3aee0" stroke="#2a2a60" stroke-width="0.7"/>
<polygon points="105.10,374.54 112.30,374.54 108.70,367.74" fill="#b3aee0" stroke="#2a2a60" stroke-width="0.7"/>
<polygon points="109.18,375.85 116.38,375.85 112.78,369.05" fill="#b3aee0" stroke="#2a2a60" stroke-width="0.7"/>
<polygon points="113.27,376.34 120.47,376.34 116.87,369.54" fill="#b3aee0" stroke="#2a2a60" stroke-width="0.7"/>
<polygon points="117.36,379.15 124.56,379.15 120.96,372.35" fill="#b3aee0" stroke="#2a2a60" stroke-width="0.7"/>
<polygon points="121.44,379.93 128.64,379.93 125.04,373.13" fill="#b3aee0" stroke="#2a2a60" stroke-width="0.7"/>
<polygon points="125.53,378.97 132.73,378.97 129.13,372.17" fill="#b3aee0" stroke="#2a2a60" stroke-width="0.7"/>
<polygon points="129.62,384.58 136.82,384.58 133.22,377.78" fill="#b3aee0" stroke="#2a2a60" stroke-width="0.7"/>
<polygon points="133.70,383.13 140.90,383.13 137.30,376.33" fill="#b3aee0" stroke="#2a2a60" stroke-width="0.7"/>
<polygon points="137.79,383.50 144.99,383.50 141.39,376.70" fill="#b3aee0" stroke="#2a2a60" stroke-width="0.7"/>
<polygon points="141.88,385.30 149.08,385.30 145.48,378.50" fill="#b3aee0" stroke="#2a2a60" stroke-width="0.7"/>
<polygon points="145.97,388.85 153.17,388.85 149.57,382.05" fill="#b3aee0" stroke="#2a2a60" stroke-width="0.7"/>
<polygon points="150.05,392.59 157.25,392.59 153.65,385.79" fill="#b3aee0" stroke="#2a2a60" stroke-width="0.7"/>
<polygon points="154.14,391.83 161.34,391.83 157.74,385.03" fill="#b3aee0" stroke="#2a2a60" stroke-width="0.7"/>
<polygon points="158.23,393.99 165.43,393.99 161.83,387.19" fill="#b3aee0" stroke="#2a2a60" stroke-width="0.7"/>
<polygon points="162.31,392.73 169.51,392.73 165.91,385.93" fill="#b3aee0" stroke="#2a2a60" stroke-width="0.7"/>
<polygon points="166.40,395.65 173.60,395.65 170.00,388.85" fill="#b3aee0" stroke="#2a2a60" stroke-width="0.7"/>
<line x1="76" y1="359" x2="170" y2="393.5" stroke="#27276e" stroke-width="2.8" stroke-linecap="round"/>
<text x="132.5" y="326.5" font-size="9.9" fill="#e3a24a" text-anchor="middle" font-weight="normal" font-style="normal" >94 mV dec<tspan baseline-shift="4" font-size="6.5">-1</tspan></text>
<text x="127" y="340" font-size="9.9" fill="#e3a24a" text-anchor="middle" font-weight="normal" font-style="normal" >CuSP</text>
<text x="236.5" y="297.5" font-size="9.9" fill="#c23a48" text-anchor="middle" font-weight="normal" font-style="normal" >CuCoSP</text>
<text x="237.9" y="310.2" font-size="9.9" fill="#c23a48" text-anchor="middle" font-weight="normal" font-style="normal" >112 mV dec<tspan baseline-shift="4" font-size="6.5">-1</tspan></text>
<text x="95.4" y="397" font-size="9.9" fill="#3f3f88" text-anchor="middle" font-weight="normal" font-style="normal" >167 mV dec<tspan baseline-shift="4" font-size="6.5">-1</tspan></text>
<text x="90" y="410.3" font-size="9.9" fill="#3f3f88" text-anchor="middle" font-weight="normal" font-style="normal" >CoSP</text>
<text x="352" y="249.5" font-size="10.5" fill="#111" text-anchor="start" font-weight="bold" font-style="normal" >d</text>
<rect x="388" y="247" width="233.75" height="176" fill="#fff" stroke="#222" stroke-width="1" />
<line x1="388" y1="270.25" x2="392" y2="270.25" stroke="#222" stroke-width="0.9" />
<text x="384" y="274.05" font-size="10.5" fill="#1a1a1a" text-anchor="end" font-weight="normal" font-style="normal" >0.2</text>
<line x1="388" y1="317.25" x2="392" y2="317.25" stroke="#222" stroke-width="0.9" />
<text x="384" y="321.05" font-size="10.5" fill="#1a1a1a" text-anchor="end" font-weight="normal" font-style="normal" >0.1</text>
<line x1="388" y1="364.25" x2="392" y2="364.25" stroke="#222" stroke-width="0.9" />
<text x="384" y="368.05" font-size="10.5" fill="#1a1a1a" text-anchor="end" font-weight="normal" font-style="normal" >0.0</text>
<line x1="388" y1="411.25" x2="392" y2="411.25" stroke="#222" stroke-width="0.9" />
<text x="384" y="415.05" font-size="10.5" fill="#1a1a1a" text-anchor="end" font-weight="normal" font-style="normal" >-0.1</text>
<line x1="388" y1="293.75" x2="390.4" y2="293.75" stroke="#222" stroke-width="0.8" />
<line x1="388" y1="340.75" x2="390.4" y2="340.75" stroke="#222" stroke-width="0.8" />
<line x1="388" y1="387.75" x2="390.4" y2="387.75" stroke="#222" stroke-width="0.8" />
<line x1="401.07" y1="423" x2="401.07" y2="419" stroke="#222" stroke-width="0.9" />
<text x="401.07" y="437.5" font-size="10.5" fill="#1a1a1a" text-anchor="middle" font-weight="normal" font-style="normal" >-0.8</text>
<line x1="452.90999999999997" y1="423" x2="452.90999999999997" y2="419" stroke="#222" stroke-width="0.9" />
<text x="452.90999999999997" y="437.5" font-size="10.5" fill="#1a1a1a" text-anchor="middle" font-weight="normal" font-style="normal" >-0.4</text>
<line x1="504.75" y1="423" x2="504.75" y2="419" stroke="#222" stroke-width="0.9" />
<text x="504.75" y="437.5" font-size="10.5" fill="#1a1a1a" text-anchor="middle" font-weight="normal" font-style="normal" >0.0</text>
<line x1="556.59" y1="423" x2="556.59" y2="419" stroke="#222" stroke-width="0.9" />
<text x="556.59" y="437.5" font-size="10.5" fill="#1a1a1a" text-anchor="middle" font-weight="normal" font-style="normal" >0.4</text>
<line x1="608.4300000000001" y1="423" x2="608.4300000000001" y2="419" stroke="#222" stroke-width="0.9" />
<text x="608.4300000000001" y="437.5" font-size="10.5" fill="#1a1a1a" text-anchor="middle" font-weight="normal" font-style="normal" >0.8</text>
<line x1="426.99" y1="423" x2="426.99" y2="420.6" stroke="#222" stroke-width="0.8" />
<line x1="478.83" y1="423" x2="478.83" y2="420.6" stroke="#222" stroke-width="0.8" />
<line x1="530.67" y1="423" x2="530.67" y2="420.6" stroke="#222" stroke-width="0.8" />
<line x1="582.51" y1="423" x2="582.51" y2="420.6" stroke="#222" stroke-width="0.8" />
<text x="357.5" y="336" font-size="10.2" fill="#1a1a1a" text-anchor="middle" font-weight="normal" font-style="normal" transform="rotate(-90 357.5 336)" >Potential (V vs. RHE)</text>
<text x="504" y="455.5" font-size="10.5" fill="#1a1a1a" text-anchor="middle" font-weight="normal" font-style="normal" >log(|<tspan font-style="italic">j</tspan> (mA cm<tspan baseline-shift="4" font-size="7.5">-2</tspan>)|)</text>
<text x="403" y="267.7" font-size="10.2" fill="#1a1a1a" text-anchor="start" font-weight="normal" font-style="normal" >In 0.01 M NO<tspan baseline-shift="-2.5" font-size="7">2</tspan><tspan baseline-shift="3.5" font-size="10">-</tspan></text>
<rect x="420.1" y="376.6" width="4.8" height="4.8" fill="#f3a24a" stroke="#8a5a1a" stroke-width="0.7" />
<rect x="423.9" y="377.58" width="4.8" height="4.8" fill="#f3a24a" stroke="#8a5a1a" stroke-width="0.7" />
<rect x="427.7" y="378.56" width="4.8" height="4.8" fill="#f3a24a" stroke="#8a5a1a" stroke-width="0.7" />
<rect x="431.5" y="379.54" width="4.8" height="4.8" fill="#f3a24a" stroke="#8a5a1a" stroke-width="0.7" />
<rect x="435.3" y="380.52" width="4.8" height="4.8" fill="#f3a24a" stroke="#8a5a1a" stroke-width="0.7" />
<rect x="439.1" y="381.5" width="4.8" height="4.8" fill="#f3a24a" stroke="#8a5a1a" stroke-width="0.7" />
<rect x="442.9" y="382.48" width="4.8" height="4.8" fill="#f3a24a" stroke="#8a5a1a" stroke-width="0.7" />
<rect x="446.7" y="383.46" width="4.8" height="4.8" fill="#f3a24a" stroke="#8a5a1a" stroke-width="0.7" />
<rect x="450.5" y="384.44" width="4.8" height="4.8" fill="#f3a24a" stroke="#8a5a1a" stroke-width="0.7" />
<rect x="454.3" y="385.42" width="4.8" height="4.8" fill="#f3a24a" stroke="#8a5a1a" stroke-width="0.7" />
<rect x="458.1" y="386.4" width="4.8" height="4.8" fill="#f3a24a" stroke="#8a5a1a" stroke-width="0.7" />
<rect x="461.9" y="387.38" width="4.8" height="4.8" fill="#f3a24a" stroke="#8a5a1a" stroke-width="0.7" />
<rect x="465.7" y="388.36" width="4.8" height="4.8" fill="#f3a24a" stroke="#8a5a1a" stroke-width="0.7" />
<rect x="469.5" y="389.34" width="4.8" height="4.8" fill="#f3a24a" stroke="#8a5a1a" stroke-width="0.7" />
<rect x="473.3" y="390.32" width="4.8" height="4.8" fill="#f3a24a" stroke="#8a5a1a" stroke-width="0.7" />
<rect x="477.1" y="391.3" width="4.8" height="4.8" fill="#f3a24a" stroke="#8a5a1a" stroke-width="0.7" />
<rect x="480.9" y="392.28" width="4.8" height="4.8" fill="#f3a24a" stroke="#8a5a1a" stroke-width="0.7" />
<rect x="484.7" y="393.26" width="4.8" height="4.8" fill="#f3a24a" stroke="#8a5a1a" stroke-width="0.7" />
<rect x="488.5" y="394.24" width="4.8" height="4.8" fill="#f3a24a" stroke="#8a5a1a" stroke-width="0.7" />
<rect x="492.3" y="395.22" width="4.8" height="4.8" fill="#f3a24a" stroke="#8a5a1a" stroke-width="0.7" />
<rect x="496.1" y="396.2" width="4.8" height="4.8" fill="#f3a24a" stroke="#8a5a1a" stroke-width="0.7" />
<rect x="499.9" y="397.18" width="4.8" height="4.8" fill="#f3a24a" stroke="#8a5a1a" stroke-width="0.7" />
<rect x="503.7" y="398.16" width="4.8" height="4.8" fill="#f3a24a" stroke="#8a5a1a" stroke-width="0.7" />
<rect x="507.5" y="399.14" width="4.8" height="4.8" fill="#f3a24a" stroke="#8a5a1a" stroke-width="0.7" />
<rect x="511.3" y="400.12" width="4.8" height="4.8" fill="#f3a24a" stroke="#8a5a1a" stroke-width="0.7" />
<rect x="515.1" y="401.1" width="4.8" height="4.8" fill="#f3a24a" stroke="#8a5a1a" stroke-width="0.7" />
<line x1="422.5" y1="379" x2="517.5" y2="403.5" stroke="#e0861c" stroke-width="2.0" stroke-linecap="round"/>
<circle cx="492.50" cy="291.00" r="2.8" fill="#f08a94" stroke="#7a1a28" stroke-width="0.7"/>
<circle cx="495.72" cy="292.13" r="2.8" fill="#f08a94" stroke="#7a1a28" stroke-width="0.7"/>
<circle cx="498.93" cy="293.26" r="2.8" fill="#f08a94" stroke="#7a1a28" stroke-width="0.7"/>
<circle cx="502.15" cy="294.39" r="2.8" fill="#f08a94" stroke="#7a1a28" stroke-width="0.7"/>
<circle cx="505.37" cy="295.52" r="2.8" fill="#f08a94" stroke="#7a1a28" stroke-width="0.7"/>
<circle cx="508.59" cy="296.65" r="2.8" fill="#f08a94" stroke="#7a1a28" stroke-width="0.7"/>
<circle cx="511.80" cy="297.78" r="2.8" fill="#f08a94" stroke="#7a1a28" stroke-width="0.7"/>
<circle cx="515.02" cy="298.91" r="2.8" fill="#f08a94" stroke="#7a1a28" stroke-width="0.7"/>
<circle cx="518.24" cy="300.04" r="2.8" fill="#f08a94" stroke="#7a1a28" stroke-width="0.7"/>
<circle cx="521.46" cy="301.17" r="2.8" fill="#f08a94" stroke="#7a1a28" stroke-width="0.7"/>
<circle cx="524.67" cy="302.30" r="2.8" fill="#f08a94" stroke="#7a1a28" stroke-width="0.7"/>
<circle cx="527.89" cy="303.43" r="2.8" fill="#f08a94" stroke="#7a1a28" stroke-width="0.7"/>
<circle cx="531.11" cy="304.57" r="2.8" fill="#f08a94" stroke="#7a1a28" stroke-width="0.7"/>
<circle cx="534.33" cy="305.70" r="2.8" fill="#f08a94" stroke="#7a1a28" stroke-width="0.7"/>
<circle cx="537.54" cy="306.83" r="2.8" fill="#f08a94" stroke="#7a1a28" stroke-width="0.7"/>
<circle cx="540.76" cy="307.96" r="2.8" fill="#f08a94" stroke="#7a1a28" stroke-width="0.7"/>
<circle cx="543.98" cy="309.09" r="2.8" fill="#f08a94" stroke="#7a1a28" stroke-width="0.7"/>
<circle cx="547.20" cy="310.22" r="2.8" fill="#f08a94" stroke="#7a1a28" stroke-width="0.7"/>
<circle cx="550.41" cy="311.35" r="2.8" fill="#f08a94" stroke="#7a1a28" stroke-width="0.7"/>
<circle cx="553.63" cy="312.48" r="2.8" fill="#f08a94" stroke="#7a1a28" stroke-width="0.7"/>
<circle cx="556.85" cy="313.61" r="2.8" fill="#f08a94" stroke="#7a1a28" stroke-width="0.7"/>
<circle cx="560.07" cy="314.74" r="2.8" fill="#f08a94" stroke="#7a1a28" stroke-width="0.7"/>
<circle cx="563.28" cy="315.87" r="2.8" fill="#f08a94" stroke="#7a1a28" stroke-width="0.7"/>
<circle cx="566.50" cy="317.00" r="2.8" fill="#f08a94" stroke="#7a1a28" stroke-width="0.7"/>
<line x1="492.5" y1="291" x2="566.5" y2="317" stroke="#d01f30" stroke-width="2.6" stroke-linecap="round"/>
<polygon points="524.10,291.37 529.90,291.37 527.00,285.97" fill="#a9a4da" stroke="#2a2a60" stroke-width="0.7"/>
<polygon points="526.88,293.00 532.68,293.00 529.78,287.60" fill="#a9a4da" stroke="#2a2a60" stroke-width="0.7"/>
<polygon points="529.67,293.70 535.47,293.70 532.57,288.30" fill="#a9a4da" stroke="#2a2a60" stroke-width="0.7"/>
<polygon points="532.45,294.56 538.25,294.56 535.35,289.16" fill="#a9a4da" stroke="#2a2a60" stroke-width="0.7"/>
<polygon points="535.23,295.92 541.03,295.92 538.13,290.52" fill="#a9a4da" stroke="#2a2a60" stroke-width="0.7"/>
<polygon points="538.01,297.52 543.81,297.52 540.91,292.12" fill="#a9a4da" stroke="#2a2a60" stroke-width="0.7"/>
<polygon points="540.80,297.62 546.60,297.62 543.70,292.22" fill="#a9a4da" stroke="#2a2a60" stroke-width="0.7"/>
<polygon points="543.58,298.91 549.38,298.91 546.48,293.51" fill="#a9a4da" stroke="#2a2a60" stroke-width="0.7"/>
<polygon points="546.36,300.58 552.16,300.58 549.26,295.18" fill="#a9a4da" stroke="#2a2a60" stroke-width="0.7"/>
<polygon points="549.14,301.48 554.94,301.48 552.04,296.08" fill="#a9a4da" stroke="#2a2a60" stroke-width="0.7"/>
<polygon points="551.93,302.17 557.73,302.17 554.83,296.77" fill="#a9a4da" stroke="#2a2a60" stroke-width="0.7"/>
<polygon points="554.71,302.81 560.51,302.81 557.61,297.41" fill="#a9a4da" stroke="#2a2a60" stroke-width="0.7"/>
<polygon points="557.49,304.48 563.29,304.48 560.39,299.08" fill="#a9a4da" stroke="#2a2a60" stroke-width="0.7"/>
<polygon points="560.27,305.57 566.07,305.57 563.17,300.17" fill="#a9a4da" stroke="#2a2a60" stroke-width="0.7"/>
<polygon points="563.06,306.86 568.86,306.86 565.96,301.46" fill="#a9a4da" stroke="#2a2a60" stroke-width="0.7"/>
<polygon points="565.84,307.31 571.64,307.31 568.74,301.91" fill="#a9a4da" stroke="#2a2a60" stroke-width="0.7"/>
<polygon points="568.62,307.97 574.42,307.97 571.52,302.57" fill="#a9a4da" stroke="#2a2a60" stroke-width="0.7"/>
<polygon points="571.40,309.16 577.20,309.16 574.30,303.76" fill="#a9a4da" stroke="#2a2a60" stroke-width="0.7"/>
<polygon points="574.19,310.57 579.99,310.57 577.09,305.17" fill="#a9a4da" stroke="#2a2a60" stroke-width="0.7"/>
<polygon points="576.97,311.19 582.77,311.19 579.87,305.79" fill="#a9a4da" stroke="#2a2a60" stroke-width="0.7"/>
<polygon points="579.75,313.19 585.55,313.19 582.65,307.79" fill="#a9a4da" stroke="#2a2a60" stroke-width="0.7"/>
<polygon points="582.53,313.15 588.33,313.15 585.43,307.75" fill="#a9a4da" stroke="#2a2a60" stroke-width="0.7"/>
<polygon points="585.32,315.27 591.12,315.27 588.22,309.87" fill="#a9a4da" stroke="#2a2a60" stroke-width="0.7"/>
<polygon points="588.10,315.40 593.90,315.40 591.00,310.00" fill="#a9a4da" stroke="#2a2a60" stroke-width="0.7"/>
<line x1="527" y1="289.5" x2="591" y2="313.5" stroke="#27276e" stroke-width="2.6" stroke-linecap="round"/>
<text x="582" y="277.5" font-size="9.9" fill="#3f3f88" text-anchor="middle" font-weight="normal" font-style="normal" >106 mV dec<tspan baseline-shift="4" font-size="6.5">-1</tspan></text>
<text x="575.5" y="290.5" font-size="9.9" fill="#3f3f88" text-anchor="middle" font-weight="normal" font-style="normal" >CoSP</text>
<text x="516" y="322" font-size="9.9" fill="#d0505c" text-anchor="middle" font-weight="normal" font-style="normal" >CuCoSP</text>
<text x="512.6" y="334.5" font-size="9.9" fill="#d0505c" text-anchor="middle" font-weight="normal" font-style="normal" >101 mV dec<tspan baseline-shift="4" font-size="6.5">-1</tspan></text>
<text x="473.6" y="363.7" font-size="9.9" fill="#e3a24a" text-anchor="middle" font-weight="normal" font-style="normal" >72 mV dec<tspan baseline-shift="4" font-size="6.5">-1</tspan></text>
<text x="467" y="376.5" font-size="9.9" fill="#e3a24a" text-anchor="middle" font-weight="normal" font-style="normal" >CuSP</text>
<text x="10.5" y="483" font-size="10.5" fill="#111" text-anchor="start" font-weight="bold" font-style="normal" >e</text>
<defs><linearGradient id="plateTop" gradientUnits="userSpaceOnUse" x1="70" y1="548" x2="100" y2="690"><stop offset="0" stop-color="#f2c4b6"/><stop offset="1" stop-color="#f7cdbf"/></linearGradient></defs>
<polygon points="6.5,609 69,546.2 181.2,618.2 117.9,681.8" fill="url(#plateTop)"/>
<polygon points="6.5,609 117.9,681.8 117.9,692 6.5,618" fill="#cda092"/>
<polygon points="117.9,681.8 181.2,618.6 181.2,626.6 117.9,692" fill="#e3b5a6"/>
<polygon points="115.8,589.2 120,586.5 124.9,586.8 133,587.5 141.1,590.8 146,592 151.3,596.3 156,598 161.4,603.4 167,606 173.6,612.5 175.5,616 174.6,620.6 170,622 165.5,626.7 160,629 156.3,634.8 151,637 147.2,641.9 148,648 145.2,654.1 140,656 137.1,660.2 133,666 129,669.3 121,671 112.7,675.4 107,675 103.6,672.4 97,666 90.4,662.2 82,658 72.2,651.1 68,648 67.1,643 72,639 76.2,631.8 81,629 84.3,623.7 89,621 92.5,615.6 93,610 97.5,605.4 102,603 106.7,599.3 110,593" fill="#dff0fb" transform="translate(0,1.6)"/>
<polygon points="115.8,589.2 120,586.5 124.9,586.8 133,587.5 141.1,590.8 146,592 151.3,596.3 156,598 161.4,603.4 167,606 173.6,612.5 175.5,616 174.6,620.6 170,622 165.5,626.7 160,629 156.3,634.8 151,637 147.2,641.9 148,648 145.2,654.1 140,656 137.1,660.2 133,666 129,669.3 121,671 112.7,675.4 107,675 103.6,672.4 97,666 90.4,662.2 82,658 72.2,651.1 68,648 67.1,643 72,639 76.2,631.8 81,629 84.3,623.7 89,621 92.5,615.6 93,610 97.5,605.4 102,603 106.7,599.3 110,593" fill="#57b3ea"/>
<g>
<polygon points="150.9,616.3 143.5,623.8 131.6,622.5 127.1,613.7 134.5,606.2 146.4,607.5" fill="#62b9ed" stroke="#3f9ed9" stroke-width="0.8" opacity="1" stroke-linejoin="round"/>
<polygon points="133.0,603.0 127.0,609.9 115.0,609.9 109.0,603.0 115.0,596.1 127.0,596.1" fill="#52afe7" stroke="#429fd9" stroke-width="0.8" opacity="1" stroke-linejoin="round"/>
<polygon points="125.3,635.4 117.3,641.7 105.6,639.9 101.9,631.8 109.9,625.5 121.6,627.3" fill="#63baed" stroke="#3d9bd6" stroke-width="0.8" opacity="1" stroke-linejoin="round"/>
<polygon points="145.0,637.7 138.6,644.3 127.7,643.6 123.0,636.3 129.4,629.7 140.3,630.4" fill="#55b1e8" stroke="#429fd9" stroke-width="0.8" opacity="1" stroke-linejoin="round"/>
<polygon points="109.8,652.5 101.4,659.0 88.6,657.5 84.2,649.5 92.6,643.0 105.4,644.5" fill="#5cb6eb" stroke="#429fd9" stroke-width="0.8" opacity="1" stroke-linejoin="round"/>
<polygon points="132.0,658.0 126.0,664.5 114.0,664.5 108.0,658.0 114.0,651.5 126.0,651.5" fill="#50ade6" stroke="#3d9bd6" stroke-width="0.8" opacity="1" stroke-linejoin="round"/>
<polygon points="167.9,613.0 162.1,617.6 153.2,616.6 150.1,611.0 155.9,606.4 164.8,607.4" fill="#5cb6eb" stroke="#429fd9" stroke-width="0.8" opacity="1" stroke-linejoin="round"/>
<polygon points="99.4,636.4 91.7,640.9 82.3,638.5 80.6,631.6 88.3,627.1 97.7,629.5" fill="#52afe7" stroke="#429fd9" stroke-width="0.8" opacity="1" stroke-linejoin="round"/>
<polygon points="158.0,598.4 153.4,602.1 145.4,601.7 142.0,597.6 146.6,593.9 154.6,594.3" fill="#58b3ea" stroke="#429fd9" stroke-width="0.8" opacity="1" stroke-linejoin="round"/>
</g>
<path d="M73,652.5 L92,663.5 M104,673.5 L113,676.6 L129,670.5 M146,643 L158,635 M160,630.5 L170,623.5" stroke="#e8f5fd" stroke-width="0.9" fill="none"/>
<line x1="92.5" y1="562" x2="150.6" y2="598.4" stroke="#222" stroke-width="0.8" stroke-dasharray="1.6,1.2"/>
<line x1="91.2" y1="564.1" x2="93.8" y2="559.9" stroke="#222" stroke-width="0.9" />
<line x1="122.0" y1="583.4" x2="124.6" y2="579.1999999999999" stroke="#222" stroke-width="0.9" />
<line x1="149.29999999999998" y1="600.5" x2="151.9" y2="596.3" stroke="#222" stroke-width="0.9" />
<text x="98.7" y="562.5" font-size="9.5" fill="#222" text-anchor="start" font-weight="normal" font-style="normal" >0</text>
<text x="124.5" y="576.5" font-size="9.5" fill="#222" text-anchor="start" font-weight="normal" font-style="normal" >600</text>
<text x="150.5" y="593.5" font-size="9.5" fill="#222" text-anchor="start" font-weight="normal" font-style="normal" >1200</text>
<text x="160.5" y="603.5" font-size="9.5" fill="#222" text-anchor="start" font-weight="normal" font-style="normal" >(μm)</text>
<polygon points="52.6,514 65.4,514 63.3,597 61.0,597" fill="url(#pip)" opacity="0.62"/>
<ellipse cx="59" cy="514" rx="6.4" ry="2.2" fill="#cfcfcf"/>
<line x1="59.6" y1="516" x2="62.2" y2="596" stroke="#bdbdbd" stroke-width="0.6" />
<rect x="57" y="591" width="7" height="9.5" fill="none" stroke="#9a8f88" stroke-width="0.5" stroke-dasharray="0.8,0.8"/>
<defs><marker id="arrE" markerWidth="6" markerHeight="6" refX="4" refY="3" orient="auto" markerUnits="userSpaceOnUse"><path d="M0,0.3 L6,3 L0,5.7 z" fill="#111"/></marker></defs>
<line x1="63.3" y1="597.3" x2="72.6" y2="586.4" stroke="#111" stroke-width="1.3" marker-end="url(#arrE)"/>
<line x1="63.3" y1="597.3" x2="83" y2="610.3" stroke="#111" stroke-width="1.3" marker-end="url(#arrE)"/>
<text x="70" y="580.5" font-size="9.5" fill="#111" text-anchor="start" font-weight="normal" font-style="normal" >Y</text>
<text x="73" y="620.5" font-size="9.5" fill="#111" text-anchor="start" font-weight="normal" font-style="normal" >X</text>
<path d="M31,510.5 L31,486.5 L58.5,486.5 L58.5,493" fill="none" stroke="#222" stroke-width="1"/>
<circle cx="58.5" cy="499" r="6" fill="#fff" stroke="#222" stroke-width="1"/>
<text x="58.5" y="502.5" font-size="9.5" fill="#222" text-anchor="middle" font-weight="normal" font-style="normal" >A</text>
<line x1="58.5" y1="505" x2="58.5" y2="514" stroke="#222" stroke-width="1" />
<circle cx="58.5" cy="514.6" r="1.9" fill="#111"/>
<line x1="26.4" y1="510.5" x2="35.6" y2="510.5" stroke="#222" stroke-width="1" />
<line x1="28.0" y1="512.8" x2="34.0" y2="512.8" stroke="#222" stroke-width="1" />
<line x1="29.5" y1="515.1" x2="32.5" y2="515.1" stroke="#222" stroke-width="1" />
<text x="18" y="530.5" font-size="10" fill="#222" text-anchor="start" font-weight="normal" font-style="normal" >WE 2</text>
<circle cx="146.3" cy="658.1" r="1.9" fill="#111"/>
<line x1="146.3" y1="658.1" x2="168.3" y2="658.1" stroke="#222" stroke-width="1" />
<circle cx="174.2" cy="658.1" r="5.9" fill="#fff" stroke="#222" stroke-width="1"/>
<text x="174.2" y="661.6" font-size="9.5" fill="#222" text-anchor="middle" font-weight="normal" font-style="normal" >A</text>
<line x1="174.2" y1="664" x2="174.2" y2="677.5" stroke="#222" stroke-width="1" />
<line x1="169.6" y1="677.5" x2="178.79999999999998" y2="677.5" stroke="#222" stroke-width="1" />
<line x1="171.2" y1="679.8" x2="177.2" y2="679.8" stroke="#222" stroke-width="1" />
<line x1="172.7" y1="682.1" x2="175.7" y2="682.1" stroke="#222" stroke-width="1" />
<text x="140.9" y="690" font-size="10" fill="#222" text-anchor="start" font-weight="normal" font-style="normal" >WE 1</text>
<text x="17" y="643" font-size="10.3" fill="#e2b544" text-anchor="start" font-weight="normal" font-style="italic" transform="rotate(22 17 643)" stroke="#e2b544" stroke-width="0.25">Cu</text>
<text x="63" y="671.5" font-size="10.3" fill="#3b9edb" text-anchor="start" font-weight="normal" font-style="italic" transform="rotate(36 63 671.5)" stroke="#3b9edb" stroke-width="0.25">Co(OH)<tspan baseline-shift="-2.5" font-size="6.5">2</tspan></text>
<rect x="97.7" y="482.9" width="82.5" height="68.7" fill="#2b2f2f" stroke="#9fc9c4" stroke-width="0.9" stroke-dasharray="1.6,1.4"/>
<clipPath id="semClip"><rect x="97.7" y="482.9" width="82.5" height="68.7"/></clipPath>
<g clip-path="url(#semClip)">
<ellipse cx="140" cy="511" rx="31" ry="27" fill="url(#semGlow)"/>
<ellipse cx="138.2" cy="518.3" rx="20.6" ry="13.3" fill="#f4f4f4" transform="rotate(6 138.2 518.3)"/>
<path d="M123,510 q8,-5 18,-4" stroke="#d2d2d2" stroke-width="1" fill="none"/>
</g>
<rect x="154.5" y="543.9" width="19.2" height="3.4" fill="#fff" stroke="none" stroke-width="1" />
<text x="220" y="483" font-size="10.5" fill="#111" text-anchor="start" font-weight="bold" font-style="normal" >f</text>
<rect x="259.8" y="501.3" width="111.7" height="9.9" fill="url(#cbF)" stroke="#444" stroke-width="0.5" />
<line x1="260.3" y1="501.3" x2="260.3" y2="511.2" stroke="#0a2a33" stroke-width="1.2" />
<line x1="259.8" y1="497" x2="259.8" y2="501" stroke="#666" stroke-width="0.7" />
<line x1="282.14" y1="497" x2="282.14" y2="501" stroke="#666" stroke-width="0.7" />
<line x1="304.48" y1="497" x2="304.48" y2="501" stroke="#666" stroke-width="0.7" />
<line x1="326.82000000000005" y1="497" x2="326.82000000000005" y2="501" stroke="#666" stroke-width="0.7" />
<line x1="349.16" y1="497" x2="349.16" y2="501" stroke="#666" stroke-width="0.7" />
<line x1="371.5" y1="497" x2="371.5" y2="501" stroke="#666" stroke-width="0.7" />
<text x="251.4" y="493" font-size="10" fill="#222" text-anchor="start" font-weight="normal" font-style="normal" >0.73</text>
<text x="315.5" y="493" font-size="10" fill="#222" text-anchor="middle" font-weight="normal" font-style="normal" >(nA)</text>
<text x="361.7" y="493" font-size="10" fill="#222" text-anchor="start" font-weight="normal" font-style="normal" >1.23</text>
<line x1="267.05" y1="528.5749999999999" x2="271.025" y2="635.725" stroke="#e9e9e9" stroke-width="0.6" />
<line x1="271.025" y1="635.725" x2="314.45" y2="672.225" stroke="#e9e9e9" stroke-width="0.6" />
<line x1="292.6" y1="526.8499999999999" x2="295.45" y2="631.95" stroke="#e9e9e9" stroke-width="0.6" />
<line x1="295.45" y1="631.95" x2="342.5" y2="666.75" stroke="#e9e9e9" stroke-width="0.6" />
<line x1="318.15" y1="525.125" x2="319.875" y2="628.175" stroke="#e9e9e9" stroke-width="0.6" />
<line x1="319.875" y1="628.175" x2="370.55" y2="661.275" stroke="#e9e9e9" stroke-width="0.6" />
<line x1="372.54999999999995" y1="529.65" x2="371.45000000000005" y2="640.0999999999999" stroke="#e9e9e9" stroke-width="0.6" />
<line x1="371.45000000000005" y1="640.0999999999999" x2="266.5" y2="658.6" stroke="#e9e9e9" stroke-width="0.6" />
<line x1="242.01" y1="541.2199999999999" x2="343.76" y2="533.5" stroke="#e9e9e9" stroke-width="0.6" />
<line x1="343.76" y1="533.5" x2="401.12" y2="547.89" stroke="#e9e9e9" stroke-width="0.6" />
<line x1="243.92249999999999" y1="582.17" x2="343.985" y2="571.375" stroke="#e9e9e9" stroke-width="0.6" />
<line x1="343.985" y1="571.375" x2="400.07" y2="592.8525" stroke="#e9e9e9" stroke-width="0.6" />
<line x1="245.70749999999998" y1="620.39" x2="344.195" y2="606.7249999999999" stroke="#e9e9e9" stroke-width="0.6" />
<line x1="344.195" y1="606.7249999999999" x2="399.09000000000003" y2="634.8175" stroke="#e9e9e9" stroke-width="0.6" />
<line x1="241.5" y1="530.3" x2="343.7" y2="523.4" stroke="#bdbdbd" stroke-width="0.7" />
<line x1="343.7" y1="523.4" x2="401.4" y2="535.9" stroke="#bdbdbd" stroke-width="0.7" />
<line x1="343.7" y1="523.4" x2="344.3" y2="624.4" stroke="#bdbdbd" stroke-width="0.7" />
<line x1="246.6" y1="639.5" x2="344.3" y2="624.4" stroke="#bdbdbd" stroke-width="0.7" />
<line x1="344.3" y1="624.4" x2="398.6" y2="655.8" stroke="#bdbdbd" stroke-width="0.7" />
<line x1="241.5" y1="530.3" x2="246.6" y2="639.5" stroke="#8c8c8c" stroke-width="0.8" />
<line x1="401.4" y1="535.9" x2="398.6" y2="655.8" stroke="#8c8c8c" stroke-width="0.8" />
<line x1="246.6" y1="639.5" x2="286.4" y2="677.7" stroke="#8c8c8c" stroke-width="0.8" />
<line x1="286.4" y1="677.7" x2="398.6" y2="655.8" stroke="#8c8c8c" stroke-width="0.8" />
<line x1="239.0043956043956" y1="541.4" x2="242.0043956043956" y2="541.1" stroke="#8c8c8c" stroke-width="0.8" />
<text transform="translate(237.4043956043956 545.0) scale(0.92 1)" x="0" y="0" font-size="10.6" fill="#1a1a1a" text-anchor="end" font-weight="normal" font-style="normal" >1.2</text>
<line x1="240.91456043956043" y1="582.3" x2="243.91456043956043" y2="582" stroke="#8c8c8c" stroke-width="0.8" />
<text transform="translate(239.31456043956044 585.9) scale(0.92 1)" x="0" y="0" font-size="10.6" fill="#1a1a1a" text-anchor="end" font-weight="normal" font-style="normal" >1.0</text>
<line x1="242.69862637362638" y1="620.5" x2="245.69862637362638" y2="620.2" stroke="#8c8c8c" stroke-width="0.8" />
<text transform="translate(241.0986263736264 624.1) scale(0.92 1)" x="0" y="0" font-size="10.6" fill="#1a1a1a" text-anchor="end" font-weight="normal" font-style="normal" >0.8</text>
<defs><linearGradient id="sF" gradientUnits="userSpaceOnUse" x1="287" y1="525" x2="245.8" y2="653.8"><stop offset="0" stop-color="#d7322a"/><stop offset="0.106" stop-color="#de4a38"/><stop offset="0.197" stop-color="#e8704e"/><stop offset="0.282" stop-color="#f3a67b"/><stop offset="0.366" stop-color="#f9d9a8"/><stop offset="0.444" stop-color="#fdf0bf"/><stop offset="0.514" stop-color="#e9f0ba"/><stop offset="0.613" stop-color="#c0e0b5"/><stop offset="0.725" stop-color="#8dcdbb"/><stop offset="0.845" stop-color="#5fb6be"/><stop offset="1" stop-color="#3796b3"/></linearGradient><linearGradient id="sF2" gradientUnits="userSpaceOnUse" x1="333" y1="533" x2="386" y2="573"><stop offset="0" stop-color="#db4434"/><stop offset="0.45" stop-color="#e5603f"/><stop offset="1" stop-color="#f08e63"/></linearGradient></defs>
<path d="M248.7,576.9 C250.6,576.4 256.6,575.0 260.0,573.9 C263.4,572.8 266.6,572.4 269.0,570.5 C271.4,568.6 272.8,564.7 274.5,562.5 C276.2,560.3 277.1,558.5 279.0,557.5 C280.9,556.5 284.2,557.6 286.0,556.3 C287.8,555.0 288.7,552.2 290.0,549.5 C291.3,546.8 292.3,542.8 293.7,540.0 C295.1,537.2 296.5,534.6 298.2,533.0 C299.9,531.4 301.7,530.5 303.7,530.5 C305.7,530.5 307.2,532.0 310.0,533.2 C312.8,534.4 317.4,537.2 320.5,537.6 C323.6,538.0 325.6,536.4 328.3,535.4 C331.0,534.4 335.3,532.1 336.7,531.5 C337.4,533.1 339.8,537.2 340.8,541.0 C341.9,544.8 342.6,552.2 343.0,554.4 C342.6,555.7 341.7,559.2 340.9,562.1 C340.1,565.0 339.5,568.5 338.1,572.0 C336.7,575.5 334.1,579.5 332.3,583.0 C330.5,586.5 329.3,588.9 327.3,592.9 C325.3,596.9 322.7,602.4 320.2,607.2 C317.7,612.0 314.9,617.0 312.3,621.5 C309.7,626.0 307.0,629.9 304.4,634.4 C301.8,638.9 298.8,644.5 296.5,648.8 C294.2,653.1 292.3,657.1 290.8,660.2 C289.3,663.3 288.1,666.2 287.5,667.4 C286.5,665.2 283.7,659.3 281.5,654.5 C279.3,649.7 276.7,644.2 274.3,638.7 C271.9,633.2 269.6,627.2 267.2,621.5 C264.8,615.8 263.1,611.8 260.0,604.4 C256.9,597.0 250.6,581.5 248.7,576.9 Z" fill="url(#sF)"/>
<path d="M320.5,537.6 C321.8,537.2 325.6,536.4 328.3,535.4 C331.0,534.4 335.3,532.1 336.7,531.5 C338.1,532.6 341.8,535.5 345.1,538.3 C348.4,541.1 352.3,544.6 356.3,548.1 C360.3,551.6 365.0,556.0 369.0,559.3 C373.0,562.6 377.3,565.5 380.2,567.8 C383.1,570.1 385.4,572.2 386.5,573.1 C385.4,572.9 382.6,572.6 380.2,572.0 C377.8,571.4 374.6,570.4 371.8,569.2 C369.0,568.0 366.2,566.4 363.4,564.9 C360.6,563.4 357.5,561.5 354.9,560.0 C352.3,558.5 349.9,556.7 347.9,555.8 C345.9,554.9 343.8,554.6 343.0,554.4 C342.5,553.6 342.2,551.4 340.2,549.5 C338.2,547.6 334.4,545.2 331.1,543.2 C327.8,541.2 322.3,538.5 320.5,537.6 Z" fill="url(#sF2)"/>
<path d="M318,536.6 L331.1,543.2 L340.2,549.5 L343,554.4" stroke="#b8322b" stroke-width="0.9" fill="none" opacity="0.55"/>
<path d="M336.7,531.5 Q340,540 343,553" stroke="#c23a30" stroke-width="0.6" fill="none" opacity="0.35"/>
<clipPath id="clipF"><path d="M248.7,576.9 C250.6,576.4 256.6,575.0 260.0,573.9 C263.4,572.8 266.6,572.4 269.0,570.5 C271.4,568.6 272.8,564.7 274.5,562.5 C276.2,560.3 277.1,558.5 279.0,557.5 C280.9,556.5 284.2,557.6 286.0,556.3 C287.8,555.0 288.7,552.2 290.0,549.5 C291.3,546.8 292.3,542.8 293.7,540.0 C295.1,537.2 296.5,534.6 298.2,533.0 C299.9,531.4 301.7,530.5 303.7,530.5 C305.7,530.5 307.2,532.0 310.0,533.2 C312.8,534.4 317.4,537.2 320.5,537.6 C323.6,538.0 325.6,536.4 328.3,535.4 C331.0,534.4 335.3,532.1 336.7,531.5 C337.4,533.1 339.8,537.2 340.8,541.0 C341.9,544.8 342.6,552.2 343.0,554.4 C342.6,555.7 341.7,559.2 340.9,562.1 C340.1,565.0 339.5,568.5 338.1,572.0 C336.7,575.5 334.1,579.5 332.3,583.0 C330.5,586.5 329.3,588.9 327.3,592.9 C325.3,596.9 322.7,602.4 320.2,607.2 C317.7,612.0 314.9,617.0 312.3,621.5 C309.7,626.0 307.0,629.9 304.4,634.4 C301.8,638.9 298.8,644.5 296.5,648.8 C294.2,653.1 292.3,657.1 290.8,660.2 C289.3,663.3 288.1,666.2 287.5,667.4 C286.5,665.2 283.7,659.3 281.5,654.5 C279.3,649.7 276.7,644.2 274.3,638.7 C271.9,633.2 269.6,627.2 267.2,621.5 C264.8,615.8 263.1,611.8 260.0,604.4 C256.9,597.0 250.6,581.5 248.7,576.9 Z"/></clipPath>
<g clip-path="url(#clipF)" stroke="#5a4a3a" stroke-width="0.45" opacity="0.3" fill="none">
<path d="M240,529 Q268,537 287,546 T350,566"/>
<path d="M240,542 Q268,550 287,559 T350,579"/>
<path d="M240,555 Q268,563 287,572 T350,592"/>
<path d="M240,568 Q268,576 287,585 T350,605"/>
<path d="M240,581 Q268,589 287,598 T350,618"/>
<path d="M240,594 Q268,602 287,611 T350,631"/>
<path d="M240,607 Q268,615 287,624 T350,644"/>
<path d="M240,621 Q268,629 287,638 T350,658"/>
</g>
<text x="219.3" y="583.7" font-size="10.25" fill="#1a1a1a" text-anchor="middle" font-weight="normal" font-style="normal" transform="rotate(-90 219.3 583.7)" >NH<tspan baseline-shift="-2.5" font-size="6.5">3</tspan> oxidation current (nA)</text>
<text transform="translate(293.5 688.5) scale(0.92 1)" x="0" y="0" font-size="10.6" fill="#1a1a1a" text-anchor="middle" font-weight="normal" font-style="normal" >0</text>
<text transform="translate(322.7 684) scale(0.92 1)" x="0" y="0" font-size="10.6" fill="#1a1a1a" text-anchor="middle" font-weight="normal" font-style="normal" >300</text>
<text transform="translate(349 678) scale(0.92 1)" x="0" y="0" font-size="10.6" fill="#1a1a1a" text-anchor="middle" font-weight="normal" font-style="normal" >600</text>
<text transform="translate(374.3 672.5) scale(0.92 1)" x="0" y="0" font-size="10.6" fill="#1a1a1a" text-anchor="middle" font-weight="normal" font-style="normal" >900</text>
<text transform="translate(399.5 667) scale(0.92 1)" x="0" y="0" font-size="10.6" fill="#1a1a1a" text-anchor="middle" font-weight="normal" font-style="normal" >1200</text>
<text transform="translate(241.5 647) scale(0.92 1)" x="0" y="0" font-size="10.6" fill="#1a1a1a" text-anchor="end" font-weight="normal" font-style="normal" >50</text>
<text transform="translate(258 662.5) scale(0.92 1)" x="0" y="0" font-size="10.6" fill="#1a1a1a" text-anchor="end" font-weight="normal" font-style="normal" >25</text>
<text transform="translate(279 683.5) scale(0.92 1)" x="0" y="0" font-size="10.6" fill="#1a1a1a" text-anchor="end" font-weight="normal" font-style="normal" >0</text>
<text transform="translate(358 691.5) rotate(-10) scale(0.92 1)" x="0" y="0" font-size="10.6" fill="#1a1a1a" text-anchor="middle" font-weight="normal" font-style="normal" >X (μm)</text>
<text transform="translate(234.2 674.5) rotate(52) scale(0.92 1)" x="0" y="0" font-size="10.6" fill="#1a1a1a" text-anchor="middle" font-weight="normal" font-style="normal" >Y (μm)</text>
<line x1="286.4" y1="677.7" x2="287.0" y2="680.3000000000001" stroke="#8c8c8c" stroke-width="0.8" />
<line x1="314.45" y1="672.225" x2="315.05" y2="674.825" stroke="#8c8c8c" stroke-width="0.8" />
<line x1="342.5" y1="666.75" x2="343.1" y2="669.35" stroke="#8c8c8c" stroke-width="0.8" />
<line x1="370.55" y1="661.275" x2="371.15000000000003" y2="663.875" stroke="#8c8c8c" stroke-width="0.8" />
<line x1="398.6" y1="655.8" x2="399.20000000000005" y2="658.4" stroke="#8c8c8c" stroke-width="0.8" />
<line x1="246.6" y1="639.5" x2="244.2" y2="640.7" stroke="#8c8c8c" stroke-width="0.8" />
<line x1="266.5" y1="658.6" x2="264.1" y2="659.8000000000001" stroke="#8c8c8c" stroke-width="0.8" />
<line x1="286.4" y1="677.7" x2="284.0" y2="678.9000000000001" stroke="#8c8c8c" stroke-width="0.8" />
<text x="437.5" y="483" font-size="10.5" fill="#111" text-anchor="start" font-weight="bold" font-style="normal" >g</text>
<rect x="491.7" y="500.5" width="104.5" height="10" fill="url(#cbG)" stroke="#444" stroke-width="0.5" />
<line x1="492.2" y1="500.5" x2="492.2" y2="510.5" stroke="#3a2408" stroke-width="1.0" />
<line x1="491.7" y1="496.5" x2="491.7" y2="500.5" stroke="#666" stroke-width="0.7" />
<line x1="512.6" y1="496.5" x2="512.6" y2="500.5" stroke="#666" stroke-width="0.7" />
<line x1="533.5" y1="496.5" x2="533.5" y2="500.5" stroke="#666" stroke-width="0.7" />
<line x1="554.4" y1="496.5" x2="554.4" y2="500.5" stroke="#666" stroke-width="0.7" />
<line x1="575.3" y1="496.5" x2="575.3" y2="500.5" stroke="#666" stroke-width="0.7" />
<line x1="596.2" y1="496.5" x2="596.2" y2="500.5" stroke="#666" stroke-width="0.7" />
<text x="480" y="492.5" font-size="10" fill="#222" text-anchor="start" font-weight="normal" font-style="normal" >-2.31</text>
<text x="544.3" y="492.5" font-size="10" fill="#222" text-anchor="middle" font-weight="normal" font-style="normal" >(nA)</text>
<text x="585" y="492.5" font-size="10" fill="#222" text-anchor="start" font-weight="normal" font-style="normal" >-2.06</text>
<line x1="484.7" y1="531.075" x2="489.725" y2="631.825" stroke="#e9e9e9" stroke-width="0.6" />
<line x1="489.725" y1="631.825" x2="540.925" y2="670.775" stroke="#e9e9e9" stroke-width="0.6" />
<line x1="508.70000000000005" y1="528.25" x2="512.05" y2="627.25" stroke="#e9e9e9" stroke-width="0.6" />
<line x1="512.05" y1="627.25" x2="565.85" y2="664.45" stroke="#e9e9e9" stroke-width="0.6" />
<line x1="532.7" y1="525.425" x2="534.375" y2="622.675" stroke="#e9e9e9" stroke-width="0.6" />
<line x1="534.375" y1="622.675" x2="590.7750000000001" y2="658.125" stroke="#e9e9e9" stroke-width="0.6" />
<line x1="586.9000000000001" y1="530.35" x2="586.2" y2="634.95" stroke="#e9e9e9" stroke-width="0.6" />
<line x1="586.2" y1="634.95" x2="491.7" y2="656.75" stroke="#e9e9e9" stroke-width="0.6" />
<line x1="461.705" y1="549.275" x2="556.7" y2="536.9250000000001" stroke="#e9e9e9" stroke-width="0.6" />
<line x1="556.7" y1="536.9250000000001" x2="616.89" y2="555.155" stroke="#e9e9e9" stroke-width="0.6" />
<line x1="464.08349999999996" y1="585.6625" x2="556.7" y2="570.8275" stroke="#e9e9e9" stroke-width="0.6" />
<line x1="556.7" y1="570.8275" x2="616.393" y2="595.5185" stroke="#e9e9e9" stroke-width="0.6" />
<line x1="466.395" y1="621.025" x2="556.7" y2="603.775" stroke="#e9e9e9" stroke-width="0.6" />
<line x1="556.7" y1="603.775" x2="615.9100000000001" y2="634.745" stroke="#e9e9e9" stroke-width="0.6" />
<line x1="460.7" y1="533.9" x2="556.7" y2="522.6" stroke="#bdbdbd" stroke-width="0.7" />
<line x1="556.7" y1="522.6" x2="617.1" y2="538.1" stroke="#bdbdbd" stroke-width="0.7" />
<line x1="556.7" y1="522.6" x2="556.7" y2="618.1" stroke="#bdbdbd" stroke-width="0.7" />
<line x1="467.4" y1="636.4" x2="556.7" y2="618.1" stroke="#bdbdbd" stroke-width="0.7" />
<line x1="556.7" y1="618.1" x2="615.7" y2="651.8" stroke="#bdbdbd" stroke-width="0.7" />
<line x1="460.7" y1="533.9" x2="467.4" y2="636.4" stroke="#8c8c8c" stroke-width="0.8" />
<line x1="617.1" y1="538.1" x2="615.7" y2="651.8" stroke="#8c8c8c" stroke-width="0.8" />
<line x1="467.4" y1="636.4" x2="516" y2="677.1" stroke="#8c8c8c" stroke-width="0.8" />
<line x1="516" y1="677.1" x2="615.7" y2="651.8" stroke="#8c8c8c" stroke-width="0.8" />
<line x1="458.7000975609756" y1="549.5" x2="461.7000975609756" y2="549.2" stroke="#8c8c8c" stroke-width="0.8" />
<text transform="translate(457.1000975609756 553.1) scale(0.92 1)" x="0" y="0" font-size="10.6" fill="#1a1a1a" text-anchor="end" font-weight="normal" font-style="normal" >-2.1</text>
<line x1="461.0794146341463" y1="585.9" x2="464.0794146341463" y2="585.6" stroke="#8c8c8c" stroke-width="0.8" />
<text transform="translate(459.4794146341463 589.5) scale(0.92 1)" x="0" y="0" font-size="10.6" fill="#1a1a1a" text-anchor="end" font-weight="normal" font-style="normal" >-2.2</text>
<line x1="463.3868292682927" y1="621.1999999999999" x2="466.3868292682927" y2="620.9" stroke="#8c8c8c" stroke-width="0.8" />
<text transform="translate(461.78682926829265 624.8) scale(0.92 1)" x="0" y="0" font-size="10.6" fill="#1a1a1a" text-anchor="end" font-weight="normal" font-style="normal" >-2.3</text>
<defs><linearGradient id="sG" gradientUnits="userSpaceOnUse" x1="500" y1="543" x2="462.8" y2="640.9"><stop offset="0" stop-color="#6e6f9f"/><stop offset="0.082" stop-color="#9091b5"/><stop offset="0.167" stop-color="#c5c4c8"/><stop offset="0.252" stop-color="#f0e9c5"/><stop offset="0.336" stop-color="#fbf0b8"/><stop offset="0.446" stop-color="#f9d890"/><stop offset="0.585" stop-color="#f5bc68"/><stop offset="0.786" stop-color="#f0a848"/><stop offset="1" stop-color="#ee9a38"/></linearGradient><linearGradient id="sG2" gradientUnits="userSpaceOnUse" x1="0" y1="542" x2="0" y2="556"><stop offset="0" stop-color="#7576a6"/><stop offset="1" stop-color="#55568f"/></linearGradient></defs>
<path d="M471.9,615.3 C472.7,614.2 475.1,611.3 476.5,608.5 C477.9,605.7 478.7,600.6 480.5,598.5 C482.3,596.4 485.5,597.1 487.5,595.8 C489.5,594.5 490.7,593.6 492.3,590.5 C493.9,587.4 495.9,581.2 497.4,577.0 C498.9,572.8 499.9,568.9 501.2,565.0 C502.4,561.1 503.4,556.6 504.9,553.7 C506.4,550.8 508.1,549.0 510.2,547.8 C512.3,546.5 516.2,546.5 517.4,546.2 C519.5,546.4 526.3,547.4 530.0,547.6 C533.7,547.8 536.5,546.6 539.8,547.6 C543.1,548.6 548.1,552.9 549.7,553.9 C549.4,555.3 548.3,559.3 547.6,562.3 C546.9,565.3 546.1,568.6 545.4,572.1 C544.7,575.6 544.0,579.9 543.3,583.4 C542.6,586.9 542.0,589.3 541.2,593.2 C540.5,597.1 539.7,602.2 538.8,607.0 C537.9,611.8 537.2,616.6 536.0,622.0 C534.8,627.4 532.9,634.9 531.4,639.2 C529.9,643.5 527.9,646.2 527.2,647.6 C526.3,647.6 523.6,647.2 522.0,647.5 C520.4,647.8 518.9,647.9 517.4,649.5 C515.9,651.1 513.9,656.1 513.2,657.4 C509.7,653.9 499.0,643.4 492.1,636.4 C485.2,629.4 475.3,618.8 471.9,615.3 Z" fill="url(#sG)"/>
<path d="M517.4,546.2 C519.5,546.4 526.3,547.4 530.0,547.6 C533.7,547.8 537.2,548.2 539.8,547.6 C542.4,547.0 543.5,544.6 545.4,544.0 C547.3,543.4 549.0,543.6 551.1,544.0 C553.2,544.4 555.5,545.8 558.1,546.2 C560.7,546.6 563.5,546.6 566.5,546.2 C569.5,545.8 573.0,544.5 576.3,544.0 C579.6,543.5 583.4,543.2 586.2,542.9 C589.0,542.6 592.0,542.5 593.2,542.4 C593.8,542.8 595.3,543.2 596.7,544.7 C598.1,546.2 600.0,549.2 601.6,551.1 C603.2,553.0 605.7,555.2 606.5,556.0 C605.5,555.5 602.4,554.0 600.2,553.2 C598.0,552.4 595.5,551.5 593.2,551.1 C590.9,550.7 588.8,550.6 586.2,550.8 C583.6,551.0 580.6,552.1 577.8,552.5 C575.0,552.9 571.6,552.7 569.3,553.2 C566.9,553.7 565.8,555.1 563.7,555.3 C561.6,555.5 559.0,554.4 556.7,554.2 C554.4,554.0 550.9,554.0 549.7,553.9 C548.1,553.3 543.5,551.2 540.0,550.3 C536.5,549.4 532.8,549.3 529.0,548.6 C525.2,547.9 519.3,546.6 517.4,546.2 Z" fill="url(#sG2)"/>
<path d="M545.4,544.5 Q552,549 563.7,554.8 M586.2,543.2 Q592,548 600.2,553" stroke="#3c3d78" stroke-width="0.7" opacity="0.35" fill="none"/>
<clipPath id="clipG"><path d="M471.9,615.3 C472.7,614.2 475.1,611.3 476.5,608.5 C477.9,605.7 478.7,600.6 480.5,598.5 C482.3,596.4 485.5,597.1 487.5,595.8 C489.5,594.5 490.7,593.6 492.3,590.5 C493.9,587.4 495.9,581.2 497.4,577.0 C498.9,572.8 499.9,568.9 501.2,565.0 C502.4,561.1 503.4,556.6 504.9,553.7 C506.4,550.8 508.1,549.0 510.2,547.8 C512.3,546.5 516.2,546.5 517.4,546.2 C519.5,546.4 526.3,547.4 530.0,547.6 C533.7,547.8 536.5,546.6 539.8,547.6 C543.1,548.6 548.1,552.9 549.7,553.9 C549.4,555.3 548.3,559.3 547.6,562.3 C546.9,565.3 546.1,568.6 545.4,572.1 C544.7,575.6 544.0,579.9 543.3,583.4 C542.6,586.9 542.0,589.3 541.2,593.2 C540.5,597.1 539.7,602.2 538.8,607.0 C537.9,611.8 537.2,616.6 536.0,622.0 C534.8,627.4 532.9,634.9 531.4,639.2 C529.9,643.5 527.9,646.2 527.2,647.6 C526.3,647.6 523.6,647.2 522.0,647.5 C520.4,647.8 518.9,647.9 517.4,649.5 C515.9,651.1 513.9,656.1 513.2,657.4 C509.7,653.9 499.0,643.4 492.1,636.4 C485.2,629.4 475.3,618.8 471.9,615.3 Z"/></clipPath>
<g clip-path="url(#clipG)" stroke="#5a4a3a" stroke-width="0.45" opacity="0.28" fill="none">
<path d="M460,540.8 L500,556 L560,578.8"/>
<path d="M460,550.8 L500,566 L560,588.8"/>
<path d="M460,560.8 L500,576 L560,598.8"/>
<path d="M460,570.8 L500,586 L560,608.8"/>
<path d="M460,580.8 L500,596 L560,618.8"/>
<path d="M460,590.8 L500,606 L560,628.8"/>
<path d="M460,600.8 L500,616 L560,638.8"/>
<path d="M460,610.8 L500,626 L560,648.8"/>
<path d="M460,620.8 L500,636 L560,658.8"/>
<path d="M460,630.8 L500,646 L560,668.8"/>
</g>
<text x="435" y="585.2" font-size="10.15" fill="#1a1a1a" text-anchor="middle" font-weight="normal" font-style="normal" transform="rotate(-90 435 585.2)" >NO<tspan baseline-shift="-2.5" font-size="6.5">2</tspan> <tspan baseline-shift="3" font-size="7.5">-</tspan> reduction current (nA)</text>
<text transform="translate(521 688.5) scale(0.92 1)" x="0" y="0" font-size="10.6" fill="#1a1a1a" text-anchor="middle" font-weight="normal" font-style="normal" >0</text>
<text transform="translate(546 683.5) scale(0.92 1)" x="0" y="0" font-size="10.6" fill="#1a1a1a" text-anchor="middle" font-weight="normal" font-style="normal" >300</text>
<text transform="translate(572.5 677) scale(0.92 1)" x="0" y="0" font-size="10.6" fill="#1a1a1a" text-anchor="middle" font-weight="normal" font-style="normal" >600</text>
<text transform="translate(596 670.5) scale(0.92 1)" x="0" y="0" font-size="10.6" fill="#1a1a1a" text-anchor="middle" font-weight="normal" font-style="normal" >900</text>
<text transform="translate(620 664.5) scale(0.92 1)" x="0" y="0" font-size="10.6" fill="#1a1a1a" text-anchor="middle" font-weight="normal" font-style="normal" >1200</text>
<text transform="translate(462.7 645) scale(0.92 1)" x="0" y="0" font-size="10.6" fill="#1a1a1a" text-anchor="end" font-weight="normal" font-style="normal" >50</text>
<text transform="translate(480.5 663) scale(0.92 1)" x="0" y="0" font-size="10.6" fill="#1a1a1a" text-anchor="end" font-weight="normal" font-style="normal" >25</text>
<text transform="translate(505 683.5) scale(0.92 1)" x="0" y="0" font-size="10.6" fill="#1a1a1a" text-anchor="end" font-weight="normal" font-style="normal" >0</text>
<text transform="translate(585 691) rotate(-11) scale(0.92 1)" x="0" y="0" font-size="10.6" fill="#1a1a1a" text-anchor="middle" font-weight="normal" font-style="normal" >X (μm)</text>
<text transform="translate(458.4 673.5) rotate(52) scale(0.92 1)" x="0" y="0" font-size="10.6" fill="#1a1a1a" text-anchor="middle" font-weight="normal" font-style="normal" >Y (μm)</text>
<line x1="516.0" y1="677.1" x2="516.6" y2="679.7" stroke="#8c8c8c" stroke-width="0.8" />
<line x1="540.925" y1="670.775" x2="541.525" y2="673.375" stroke="#8c8c8c" stroke-width="0.8" />
<line x1="565.85" y1="664.45" x2="566.45" y2="667.0500000000001" stroke="#8c8c8c" stroke-width="0.8" />
<line x1="590.7750000000001" y1="658.125" x2="591.3750000000001" y2="660.725" stroke="#8c8c8c" stroke-width="0.8" />
<line x1="615.7" y1="651.8" x2="616.3000000000001" y2="654.4" stroke="#8c8c8c" stroke-width="0.8" />
<line x1="467.4" y1="636.4" x2="465.0" y2="637.6" stroke="#8c8c8c" stroke-width="0.8" />
<line x1="491.7" y1="656.75" x2="489.3" y2="657.95" stroke="#8c8c8c" stroke-width="0.8" />
<line x1="516.0" y1="677.1" x2="513.6" y2="678.3000000000001" stroke="#8c8c8c" stroke-width="0.8" />
</svg>
</body></html>
